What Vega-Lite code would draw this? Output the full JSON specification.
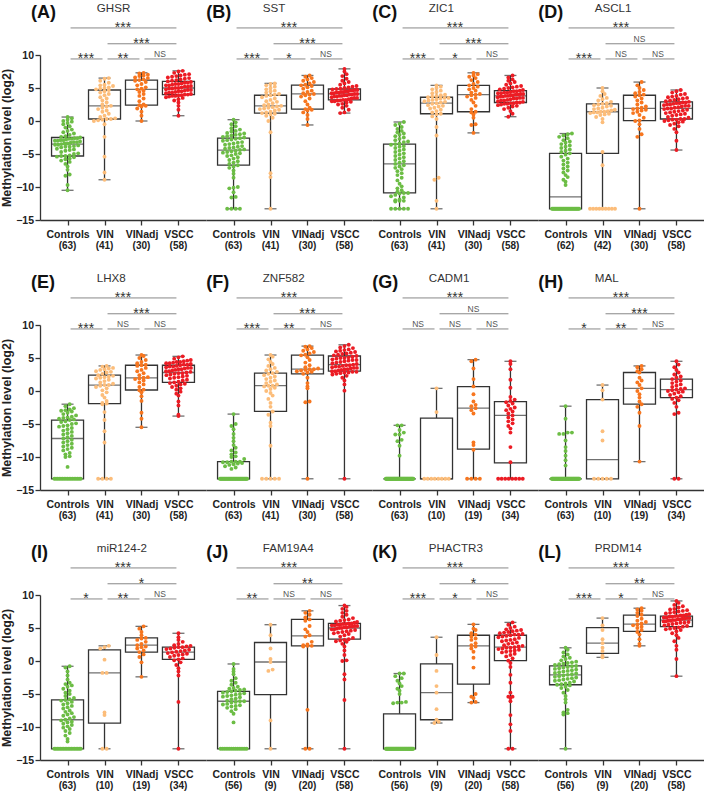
{
"$schema": "https://vega.github.io/schema/vega-lite/v6.json",
"background": "white",
"padding": {"left": 0, "top": 2, "right": 0, "bottom": 0},
"data": {"values": [
{"p":"A","ti":"GHSR","lt":"(A)"},{"p":"B","ti":"SST","lt":"(B)"},{"p":"C","ti":"ZIC1","lt":"(C)"},{"p":"D","ti":"ASCL1","lt":"(D)"},
{"p":"E","ti":"LHX8","lt":"(E)"},{"p":"F","ti":"ZNF582","lt":"(F)"},{"p":"G","ti":"CADM1","lt":"(G)"},{"p":"H","ti":"MAL","lt":"(H)"},
{"p":"I","ti":"miR124-2","lt":"(I)"},{"p":"J","ti":"FAM19A4","lt":"(J)"},{"p":"K","ti":"PHACTR3","lt":"(K)"},{"p":"L","ti":"PRDM14","lt":"(L)"},
{"p":"A","a":0,"b":3,"s":"***"},{"p":"A","a":1,"b":3,"s":"***"},{"p":"A","a":0,"b":1,"s":"***"},{"p":"A","a":1,"b":2,"s":"**"},{"p":"A","a":2,"b":3,"s":"NS"},
{"p":"B","a":0,"b":3,"s":"***"},{"p":"B","a":1,"b":3,"s":"***"},{"p":"B","a":0,"b":1,"s":"***"},{"p":"B","a":1,"b":2,"s":"*"},{"p":"B","a":2,"b":3,"s":"NS"},
{"p":"C","a":0,"b":3,"s":"***"},{"p":"C","a":1,"b":3,"s":"***"},{"p":"C","a":0,"b":1,"s":"***"},{"p":"C","a":1,"b":2,"s":"*"},{"p":"C","a":2,"b":3,"s":"NS"},
{"p":"D","a":0,"b":3,"s":"***"},{"p":"D","a":1,"b":3,"s":"NS"},{"p":"D","a":0,"b":1,"s":"***"},{"p":"D","a":1,"b":2,"s":"NS"},{"p":"D","a":2,"b":3,"s":"NS"},
{"p":"E","a":0,"b":3,"s":"***"},{"p":"E","a":1,"b":3,"s":"***"},{"p":"E","a":0,"b":1,"s":"***"},{"p":"E","a":1,"b":2,"s":"NS"},{"p":"E","a":2,"b":3,"s":"NS"},
{"p":"F","a":0,"b":3,"s":"***"},{"p":"F","a":1,"b":3,"s":"***"},{"p":"F","a":0,"b":1,"s":"***"},{"p":"F","a":1,"b":2,"s":"**"},{"p":"F","a":2,"b":3,"s":"NS"},
{"p":"G","a":0,"b":3,"s":"***"},{"p":"G","a":1,"b":3,"s":"NS"},{"p":"G","a":0,"b":1,"s":"NS"},{"p":"G","a":1,"b":2,"s":"NS"},{"p":"G","a":2,"b":3,"s":"NS"},
{"p":"H","a":0,"b":3,"s":"***"},{"p":"H","a":1,"b":3,"s":"***"},{"p":"H","a":0,"b":1,"s":"*"},{"p":"H","a":1,"b":2,"s":"**"},{"p":"H","a":2,"b":3,"s":"NS"},
{"p":"I","a":0,"b":3,"s":"***"},{"p":"I","a":1,"b":3,"s":"*"},{"p":"I","a":0,"b":1,"s":"*"},{"p":"I","a":1,"b":2,"s":"**"},{"p":"I","a":2,"b":3,"s":"NS"},
{"p":"J","a":0,"b":3,"s":"***"},{"p":"J","a":1,"b":3,"s":"**"},{"p":"J","a":0,"b":1,"s":"**"},{"p":"J","a":1,"b":2,"s":"NS"},{"p":"J","a":2,"b":3,"s":"NS"},
{"p":"K","a":0,"b":3,"s":"***"},{"p":"K","a":1,"b":3,"s":"*"},{"p":"K","a":0,"b":1,"s":"***"},{"p":"K","a":1,"b":2,"s":"*"},{"p":"K","a":2,"b":3,"s":"NS"},
{"p":"L","a":0,"b":3,"s":"***"},{"p":"L","a":1,"b":3,"s":"**"},{"p":"L","a":0,"b":1,"s":"***"},{"p":"L","a":1,"b":2,"s":"*"},{"p":"L","a":2,"b":3,"s":"NS"},
{"p":"A","g":"C","lo":-10.5,"q1":-5.3,"md":-3.5,"q3":-2.5,"hi":0.6,"nl":"(63)"},{"p":"A","g":"V","lo":-8.9,"q1":0.3,"md":2.3,"q3":4.7,"hi":6.5,"nl":"(41)"},{"p":"A","g":"J","lo":0.0,"q1":2.4,"md":4.8,"q3":6.2,"hi":7.3,"nl":"(30)"},{"p":"A","g":"S","lo":0.8,"q1":4.0,"md":5.0,"q3":6.0,"hi":7.6,"nl":"(58)"},
{"p":"B","g":"C","lo":-13.3,"q1":-6.7,"md":-4.4,"q3":-2.6,"hi":0.2,"nl":"(63)"},{"p":"B","g":"V","lo":-13.3,"q1":1.2,"md":2.3,"q3":3.9,"hi":5.7,"nl":"(41)"},{"p":"B","g":"J","lo":-0.6,"q1":1.8,"md":4.1,"q3":5.45,"hi":6.9,"nl":"(30)"},{"p":"B","g":"S","lo":1.2,"q1":3.2,"md":4.1,"q3":4.85,"hi":7.9,"nl":"(58)"},
{"p":"C","g":"C","lo":-13.3,"q1":-10.9,"md":-6.5,"q3":-3.5,"hi":-0.15,"nl":"(63)"},{"p":"C","g":"V","lo":-13.3,"q1":1.1,"md":2.7,"q3":3.6,"hi":5.4,"nl":"(41)"},{"p":"C","g":"J","lo":-1.8,"q1":1.4,"md":4.0,"q3":5.4,"hi":7.3,"nl":"(30)"},{"p":"C","g":"S","lo":0.65,"q1":2.8,"md":3.8,"q3":4.6,"hi":6.9,"nl":"(58)"},
{"p":"D","g":"C","lo":-13.3,"q1":-13.3,"md":-11.5,"q3":-4.9,"hi":-1.9,"nl":"(62)"},{"p":"D","g":"V","lo":-13.3,"q1":-4.9,"md":1.4,"q3":2.6,"hi":5.0,"nl":"(42)"},{"p":"D","g":"J","lo":-13.3,"q1":0.05,"md":1.9,"q3":3.9,"hi":5.9,"nl":"(30)"},{"p":"D","g":"S","lo":-4.4,"q1":0.3,"md":1.9,"q3":2.9,"hi":4.7,"nl":"(58)"},
{"p":"E","g":"C","lo":-13.3,"q1":-13.3,"md":-7.2,"q3":-4.4,"hi":-2.0,"nl":"(63)"},{"p":"E","g":"V","lo":-13.3,"q1":-1.9,"md":0.9,"q3":2.4,"hi":3.8,"nl":"(41)"},{"p":"E","g":"J","lo":-5.5,"q1":0.15,"md":2.0,"q3":3.9,"hi":5.45,"nl":"(30)"},{"p":"E","g":"S","lo":-3.8,"q1":1.3,"md":2.8,"q3":3.9,"hi":5.25,"nl":"(58)"},
{"p":"F","g":"C","lo":-13.3,"q1":-13.3,"md":-13.3,"q3":-10.7,"hi":-3.5,"nl":"(63)"},{"p":"F","g":"V","lo":-13.3,"q1":-3.1,"md":0.8,"q3":2.7,"hi":5.45,"nl":"(41)"},{"p":"F","g":"J","lo":-13.3,"q1":2.6,"md":3.3,"q3":5.45,"hi":6.8,"nl":"(30)"},{"p":"F","g":"S","lo":-13.3,"q1":3.0,"md":4.0,"q3":5.3,"hi":7.0,"nl":"(58)"},
{"p":"G","g":"C","lo":-13.3,"q1":-13.3,"md":-13.3,"q3":-13.3,"hi":-5.2,"nl":"(63)"},{"p":"G","g":"V","lo":-13.3,"q1":-13.3,"md":-13.3,"q3":-4.1,"hi":0.4,"nl":"(10)"},{"p":"G","g":"J","lo":-13.3,"q1":-8.8,"md":-2.6,"q3":0.65,"hi":4.75,"nl":"(19)"},{"p":"G","g":"S","lo":-13.3,"q1":-10.9,"md":-3.7,"q3":-1.6,"hi":4.5,"nl":"(34)"},
{"p":"H","g":"C","lo":-13.3,"q1":-13.3,"md":-13.3,"q3":-13.3,"hi":-2.3,"nl":"(63)"},{"p":"H","g":"V","lo":-13.3,"q1":-13.3,"md":-10.4,"q3":-1.3,"hi":0.9,"nl":"(10)"},{"p":"H","g":"J","lo":-10.7,"q1":-2.0,"md":0.4,"q3":2.8,"hi":3.8,"nl":"(19)"},{"p":"H","g":"S","lo":-13.3,"q1":-1.0,"md":0.2,"q3":1.8,"hi":4.5,"nl":"(34)"},
{"p":"I","g":"C","lo":-13.3,"q1":-13.3,"md":-8.9,"q3":-5.9,"hi":-0.8,"nl":"(63)"},{"p":"I","g":"V","lo":-13.3,"q1":-9.4,"md":-1.8,"q3":1.7,"hi":2.3,"nl":"(10)"},{"p":"I","g":"J","lo":-2.4,"q1":1.35,"md":2.4,"q3":3.5,"hi":5.25,"nl":"(19)"},{"p":"I","g":"S","lo":-13.3,"q1":0.25,"md":1.35,"q3":2.1,"hi":4.2,"nl":"(34)"},
{"p":"J","g":"C","lo":-13.3,"q1":-13.3,"md":-6.1,"q3":-4.6,"hi":-0.45,"nl":"(56)"},{"p":"J","g":"V","lo":-13.3,"q1":-5.1,"md":-0.15,"q3":2.8,"hi":5.5,"nl":"(9)"},{"p":"J","g":"J","lo":-13.3,"q1":2.3,"md":3.8,"q3":6.3,"hi":7.6,"nl":"(20)"},{"p":"J","g":"S","lo":-13.3,"q1":3.3,"md":5.0,"q3":5.7,"hi":8.4,"nl":"(58)"},
{"p":"K","g":"C","lo":-13.3,"q1":-13.3,"md":-13.3,"q3":-8.0,"hi":-1.9,"nl":"(56)"},{"p":"K","g":"V","lo":-9.4,"q1":-8.9,"md":-4.8,"q3":-0.45,"hi":3.6,"nl":"(9)"},{"p":"K","g":"J","lo":-6.3,"q1":-3.5,"md":2.3,"q3":3.9,"hi":5.55,"nl":"(20)"},{"p":"K","g":"S","lo":-13.3,"q1":0.05,"md":2.1,"q3":3.9,"hi":5.85,"nl":"(58)"},
{"p":"L","g":"C","lo":-13.3,"q1":-3.6,"md":-2.1,"q3":-0.75,"hi":2.0,"nl":"(56)"},{"p":"L","g":"V","lo":0.55,"q1":1.15,"md":2.7,"q3":5.05,"hi":6.5,"nl":"(9)"},{"p":"L","g":"J","lo":2.3,"q1":4.5,"md":5.6,"q3":6.95,"hi":8.0,"nl":"(20)"},{"p":"L","g":"S","lo":-2.3,"q1":5.2,"md":6.2,"q3":6.8,"hi":9.1,"nl":"(58)"},
{"p":"A","g":"C","v":-10.5},{"p":"A","g":"C","v":-9.7},{"p":"A","g":"C","v":-8.3},{"p":"A","g":"C","v":-8.1},{"p":"A","g":"C","v":-7.4},{"p":"A","g":"C","v":-6.9},{"p":"A","g":"C","v":-6.5},{"p":"A","g":"C","v":-6.2},{"p":"A","g":"C","v":-6.0},{"p":"A","g":"C","v":-5.8},{"p":"A","g":"C","v":-5.7},{"p":"A","g":"C","v":-5.5},{"p":"A","g":"C","v":-5.4},{"p":"A","g":"C","v":-5.3},{"p":"A","g":"C","v":-5.3},{"p":"A","g":"C","v":-5.2},{"p":"A","g":"C","v":-5.0},{"p":"A","g":"C","v":-4.9},{"p":"A","g":"C","v":-4.7},{"p":"A","g":"C","v":-4.5},{"p":"A","g":"C","v":-4.4},{"p":"A","g":"C","v":-4.3},{"p":"A","g":"C","v":-4.2},{"p":"A","g":"C","v":-4.0},{"p":"A","g":"C","v":-3.9},{"p":"A","g":"C","v":-3.9},{"p":"A","g":"C","v":-3.8},{"p":"A","g":"C","v":-3.7},{"p":"A","g":"C","v":-3.6},{"p":"A","g":"C","v":-3.6},{"p":"A","g":"C","v":-3.5},{"p":"A","g":"C","v":-3.4},{"p":"A","g":"C","v":-3.4},{"p":"A","g":"C","v":-3.3},{"p":"A","g":"C","v":-3.2},{"p":"A","g":"C","v":-3.2},{"p":"A","g":"C","v":-3.1},{"p":"A","g":"C","v":-3.0},{"p":"A","g":"C","v":-3.0},{"p":"A","g":"C","v":-2.9},{"p":"A","g":"C","v":-2.9},{"p":"A","g":"C","v":-2.8},{"p":"A","g":"C","v":-2.7},{"p":"A","g":"C","v":-2.7},{"p":"A","g":"C","v":-2.6},{"p":"A","g":"C","v":-2.6},{"p":"A","g":"C","v":-2.5},{"p":"A","g":"C","v":-2.4},{"p":"A","g":"C","v":-2.3},{"p":"A","g":"C","v":-2.1},{"p":"A","g":"C","v":-1.9},{"p":"A","g":"C","v":-1.7},{"p":"A","g":"C","v":-1.5},{"p":"A","g":"C","v":-1.3},{"p":"A","g":"C","v":-1.0},{"p":"A","g":"C","v":-0.8},{"p":"A","g":"C","v":-0.5},{"p":"A","g":"C","v":-0.3},{"p":"A","g":"C","v":-0.1},{"p":"A","g":"C","v":0.0},{"p":"A","g":"C","v":0.2},{"p":"A","g":"C","v":0.4},{"p":"A","g":"C","v":0.6},
{"p":"A","g":"V","v":-8.9},{"p":"A","g":"V","v":-7.8},{"p":"A","g":"V","v":-5.4},{"p":"A","g":"V","v":-2.4},{"p":"A","g":"V","v":-0.5},{"p":"A","g":"V","v":0.0},{"p":"A","g":"V","v":0.1},{"p":"A","g":"V","v":0.2},{"p":"A","g":"V","v":0.3},{"p":"A","g":"V","v":0.3},{"p":"A","g":"V","v":0.4},{"p":"A","g":"V","v":0.6},{"p":"A","g":"V","v":0.8},{"p":"A","g":"V","v":1.1},{"p":"A","g":"V","v":1.4},{"p":"A","g":"V","v":1.6},{"p":"A","g":"V","v":1.8},{"p":"A","g":"V","v":2.0},{"p":"A","g":"V","v":2.2},{"p":"A","g":"V","v":2.3},{"p":"A","g":"V","v":2.5},{"p":"A","g":"V","v":2.8},{"p":"A","g":"V","v":3.1},{"p":"A","g":"V","v":3.4},{"p":"A","g":"V","v":3.6},{"p":"A","g":"V","v":3.9},{"p":"A","g":"V","v":4.1},{"p":"A","g":"V","v":4.3},{"p":"A","g":"V","v":4.5},{"p":"A","g":"V","v":4.7},{"p":"A","g":"V","v":4.8},{"p":"A","g":"V","v":4.9},{"p":"A","g":"V","v":5.0},{"p":"A","g":"V","v":5.1},{"p":"A","g":"V","v":5.3},{"p":"A","g":"V","v":5.4},{"p":"A","g":"V","v":5.5},{"p":"A","g":"V","v":5.8},{"p":"A","g":"V","v":6.1},{"p":"A","g":"V","v":6.4},{"p":"A","g":"V","v":6.5},
{"p":"A","g":"J","v":0.0},{"p":"A","g":"J","v":0.8},{"p":"A","g":"J","v":1.4},{"p":"A","g":"J","v":1.9},{"p":"A","g":"J","v":2.2},{"p":"A","g":"J","v":2.3},{"p":"A","g":"J","v":2.4},{"p":"A","g":"J","v":2.5},{"p":"A","g":"J","v":3.0},{"p":"A","g":"J","v":3.4},{"p":"A","g":"J","v":3.8},{"p":"A","g":"J","v":4.1},{"p":"A","g":"J","v":4.4},{"p":"A","g":"J","v":4.6},{"p":"A","g":"J","v":4.8},{"p":"A","g":"J","v":4.9},{"p":"A","g":"J","v":5.1},{"p":"A","g":"J","v":5.4},{"p":"A","g":"J","v":5.6},{"p":"A","g":"J","v":5.9},{"p":"A","g":"J","v":6.1},{"p":"A","g":"J","v":6.2},{"p":"A","g":"J","v":6.3},{"p":"A","g":"J","v":6.5},{"p":"A","g":"J","v":6.6},{"p":"A","g":"J","v":6.8},{"p":"A","g":"J","v":6.9},{"p":"A","g":"J","v":7.0},{"p":"A","g":"J","v":7.2},{"p":"A","g":"J","v":7.3},
{"p":"A","g":"S","v":0.8},{"p":"A","g":"S","v":1.7},{"p":"A","g":"S","v":2.3},{"p":"A","g":"S","v":2.8},{"p":"A","g":"S","v":3.1},{"p":"A","g":"S","v":3.3},{"p":"A","g":"S","v":3.5},{"p":"A","g":"S","v":3.6},{"p":"A","g":"S","v":3.7},{"p":"A","g":"S","v":3.8},{"p":"A","g":"S","v":3.8},{"p":"A","g":"S","v":3.9},{"p":"A","g":"S","v":3.9},{"p":"A","g":"S","v":4.0},{"p":"A","g":"S","v":4.0},{"p":"A","g":"S","v":4.1},{"p":"A","g":"S","v":4.2},{"p":"A","g":"S","v":4.3},{"p":"A","g":"S","v":4.3},{"p":"A","g":"S","v":4.4},{"p":"A","g":"S","v":4.5},{"p":"A","g":"S","v":4.5},{"p":"A","g":"S","v":4.6},{"p":"A","g":"S","v":4.7},{"p":"A","g":"S","v":4.7},{"p":"A","g":"S","v":4.8},{"p":"A","g":"S","v":4.9},{"p":"A","g":"S","v":4.9},{"p":"A","g":"S","v":5.0},{"p":"A","g":"S","v":5.0},{"p":"A","g":"S","v":5.1},{"p":"A","g":"S","v":5.2},{"p":"A","g":"S","v":5.2},{"p":"A","g":"S","v":5.3},{"p":"A","g":"S","v":5.4},{"p":"A","g":"S","v":5.4},{"p":"A","g":"S","v":5.5},{"p":"A","g":"S","v":5.6},{"p":"A","g":"S","v":5.6},{"p":"A","g":"S","v":5.7},{"p":"A","g":"S","v":5.8},{"p":"A","g":"S","v":5.8},{"p":"A","g":"S","v":5.9},{"p":"A","g":"S","v":6.0},{"p":"A","g":"S","v":6.1},{"p":"A","g":"S","v":6.2},{"p":"A","g":"S","v":6.3},{"p":"A","g":"S","v":6.4},{"p":"A","g":"S","v":6.5},{"p":"A","g":"S","v":6.6},{"p":"A","g":"S","v":6.7},{"p":"A","g":"S","v":6.8},{"p":"A","g":"S","v":6.9},{"p":"A","g":"S","v":7.0},{"p":"A","g":"S","v":7.1},{"p":"A","g":"S","v":7.3},{"p":"A","g":"S","v":7.5},{"p":"A","g":"S","v":7.6},
{"p":"B","g":"C","v":-13.3},{"p":"B","g":"C","v":-13.3},{"p":"B","g":"C","v":-13.3},{"p":"B","g":"C","v":-13.3},{"p":"B","g":"C","v":-11.6},{"p":"B","g":"C","v":-11.5},{"p":"B","g":"C","v":-10.8},{"p":"B","g":"C","v":-10.2},{"p":"B","g":"C","v":-10.1},{"p":"B","g":"C","v":-10.0},{"p":"B","g":"C","v":-8.6},{"p":"B","g":"C","v":-8.0},{"p":"B","g":"C","v":-7.5},{"p":"B","g":"C","v":-7.1},{"p":"B","g":"C","v":-6.9},{"p":"B","g":"C","v":-6.7},{"p":"B","g":"C","v":-6.5},{"p":"B","g":"C","v":-6.3},{"p":"B","g":"C","v":-6.1},{"p":"B","g":"C","v":-5.9},{"p":"B","g":"C","v":-5.7},{"p":"B","g":"C","v":-5.5},{"p":"B","g":"C","v":-5.3},{"p":"B","g":"C","v":-5.2},{"p":"B","g":"C","v":-5.0},{"p":"B","g":"C","v":-4.9},{"p":"B","g":"C","v":-4.8},{"p":"B","g":"C","v":-4.7},{"p":"B","g":"C","v":-4.6},{"p":"B","g":"C","v":-4.5},{"p":"B","g":"C","v":-4.4},{"p":"B","g":"C","v":-4.3},{"p":"B","g":"C","v":-4.2},{"p":"B","g":"C","v":-4.1},{"p":"B","g":"C","v":-4.0},{"p":"B","g":"C","v":-3.9},{"p":"B","g":"C","v":-3.8},{"p":"B","g":"C","v":-3.6},{"p":"B","g":"C","v":-3.5},{"p":"B","g":"C","v":-3.4},{"p":"B","g":"C","v":-3.3},{"p":"B","g":"C","v":-3.2},{"p":"B","g":"C","v":-3.0},{"p":"B","g":"C","v":-2.9},{"p":"B","g":"C","v":-2.8},{"p":"B","g":"C","v":-2.7},{"p":"B","g":"C","v":-2.6},{"p":"B","g":"C","v":-2.5},{"p":"B","g":"C","v":-2.4},{"p":"B","g":"C","v":-2.3},{"p":"B","g":"C","v":-2.2},{"p":"B","g":"C","v":-2.1},{"p":"B","g":"C","v":-2.0},{"p":"B","g":"C","v":-1.9},{"p":"B","g":"C","v":-1.8},{"p":"B","g":"C","v":-1.6},{"p":"B","g":"C","v":-1.5},{"p":"B","g":"C","v":-1.3},{"p":"B","g":"C","v":-1.1},{"p":"B","g":"C","v":-0.8},{"p":"B","g":"C","v":-0.5},{"p":"B","g":"C","v":-0.2},{"p":"B","g":"C","v":0.2},
{"p":"B","g":"V","v":-13.3},{"p":"B","g":"V","v":-8.5},{"p":"B","g":"V","v":-7.9},{"p":"B","g":"V","v":-1.7},{"p":"B","g":"V","v":0.0},{"p":"B","g":"V","v":0.5},{"p":"B","g":"V","v":0.8},{"p":"B","g":"V","v":1.0},{"p":"B","g":"V","v":1.1},{"p":"B","g":"V","v":1.2},{"p":"B","g":"V","v":1.3},{"p":"B","g":"V","v":1.4},{"p":"B","g":"V","v":1.6},{"p":"B","g":"V","v":1.7},{"p":"B","g":"V","v":1.8},{"p":"B","g":"V","v":1.9},{"p":"B","g":"V","v":2.0},{"p":"B","g":"V","v":2.1},{"p":"B","g":"V","v":2.2},{"p":"B","g":"V","v":2.3},{"p":"B","g":"V","v":2.4},{"p":"B","g":"V","v":2.5},{"p":"B","g":"V","v":2.7},{"p":"B","g":"V","v":2.9},{"p":"B","g":"V","v":3.0},{"p":"B","g":"V","v":3.2},{"p":"B","g":"V","v":3.4},{"p":"B","g":"V","v":3.6},{"p":"B","g":"V","v":3.8},{"p":"B","g":"V","v":3.9},{"p":"B","g":"V","v":4.0},{"p":"B","g":"V","v":4.1},{"p":"B","g":"V","v":4.3},{"p":"B","g":"V","v":4.5},{"p":"B","g":"V","v":4.6},{"p":"B","g":"V","v":4.8},{"p":"B","g":"V","v":5.0},{"p":"B","g":"V","v":5.2},{"p":"B","g":"V","v":5.4},{"p":"B","g":"V","v":5.6},{"p":"B","g":"V","v":5.7},
{"p":"B","g":"J","v":-0.6},{"p":"B","g":"J","v":0.3},{"p":"B","g":"J","v":0.9},{"p":"B","g":"J","v":1.3},{"p":"B","g":"J","v":1.6},{"p":"B","g":"J","v":1.7},{"p":"B","g":"J","v":1.8},{"p":"B","g":"J","v":2.0},{"p":"B","g":"J","v":2.5},{"p":"B","g":"J","v":3.0},{"p":"B","g":"J","v":3.4},{"p":"B","g":"J","v":3.7},{"p":"B","g":"J","v":3.9},{"p":"B","g":"J","v":4.0},{"p":"B","g":"J","v":4.1},{"p":"B","g":"J","v":4.2},{"p":"B","g":"J","v":4.4},{"p":"B","g":"J","v":4.6},{"p":"B","g":"J","v":4.9},{"p":"B","g":"J","v":5.1},{"p":"B","g":"J","v":5.3},{"p":"B","g":"J","v":5.4},{"p":"B","g":"J","v":5.5},{"p":"B","g":"J","v":5.7},{"p":"B","g":"J","v":5.9},{"p":"B","g":"J","v":6.1},{"p":"B","g":"J","v":6.3},{"p":"B","g":"J","v":6.5},{"p":"B","g":"J","v":6.7},{"p":"B","g":"J","v":6.9},
{"p":"B","g":"S","v":1.2},{"p":"B","g":"S","v":1.3},{"p":"B","g":"S","v":1.7},{"p":"B","g":"S","v":2.0},{"p":"B","g":"S","v":2.3},{"p":"B","g":"S","v":2.5},{"p":"B","g":"S","v":2.6},{"p":"B","g":"S","v":2.8},{"p":"B","g":"S","v":2.9},{"p":"B","g":"S","v":3.0},{"p":"B","g":"S","v":3.0},{"p":"B","g":"S","v":3.1},{"p":"B","g":"S","v":3.1},{"p":"B","g":"S","v":3.2},{"p":"B","g":"S","v":3.2},{"p":"B","g":"S","v":3.3},{"p":"B","g":"S","v":3.4},{"p":"B","g":"S","v":3.5},{"p":"B","g":"S","v":3.5},{"p":"B","g":"S","v":3.6},{"p":"B","g":"S","v":3.7},{"p":"B","g":"S","v":3.7},{"p":"B","g":"S","v":3.8},{"p":"B","g":"S","v":3.8},{"p":"B","g":"S","v":3.9},{"p":"B","g":"S","v":3.9},{"p":"B","g":"S","v":4.0},{"p":"B","g":"S","v":4.0},{"p":"B","g":"S","v":4.1},{"p":"B","g":"S","v":4.1},{"p":"B","g":"S","v":4.2},{"p":"B","g":"S","v":4.2},{"p":"B","g":"S","v":4.3},{"p":"B","g":"S","v":4.3},{"p":"B","g":"S","v":4.4},{"p":"B","g":"S","v":4.4},{"p":"B","g":"S","v":4.5},{"p":"B","g":"S","v":4.5},{"p":"B","g":"S","v":4.6},{"p":"B","g":"S","v":4.6},{"p":"B","g":"S","v":4.7},{"p":"B","g":"S","v":4.7},{"p":"B","g":"S","v":4.8},{"p":"B","g":"S","v":4.85},{"p":"B","g":"S","v":4.9},{"p":"B","g":"S","v":5.0},{"p":"B","g":"S","v":5.1},{"p":"B","g":"S","v":5.2},{"p":"B","g":"S","v":5.3},{"p":"B","g":"S","v":5.5},{"p":"B","g":"S","v":5.7},{"p":"B","g":"S","v":5.9},{"p":"B","g":"S","v":6.1},{"p":"B","g":"S","v":6.4},{"p":"B","g":"S","v":6.8},{"p":"B","g":"S","v":7.1},{"p":"B","g":"S","v":7.5},{"p":"B","g":"S","v":7.9},
{"p":"C","g":"C","v":-13.3},{"p":"C","g":"C","v":-13.3},{"p":"C","g":"C","v":-13.3},{"p":"C","g":"C","v":-13.3},{"p":"C","g":"C","v":-13.3},{"p":"C","g":"C","v":-12.2},{"p":"C","g":"C","v":-12.1},{"p":"C","g":"C","v":-12.1},{"p":"C","g":"C","v":-12.0},{"p":"C","g":"C","v":-11.9},{"p":"C","g":"C","v":-11.6},{"p":"C","g":"C","v":-11.4},{"p":"C","g":"C","v":-11.2},{"p":"C","g":"C","v":-11.0},{"p":"C","g":"C","v":-10.9},{"p":"C","g":"C","v":-10.9},{"p":"C","g":"C","v":-10.7},{"p":"C","g":"C","v":-10.5},{"p":"C","g":"C","v":-10.2},{"p":"C","g":"C","v":-9.9},{"p":"C","g":"C","v":-9.5},{"p":"C","g":"C","v":-9.0},{"p":"C","g":"C","v":-8.6},{"p":"C","g":"C","v":-8.2},{"p":"C","g":"C","v":-7.9},{"p":"C","g":"C","v":-7.6},{"p":"C","g":"C","v":-7.3},{"p":"C","g":"C","v":-7.1},{"p":"C","g":"C","v":-6.9},{"p":"C","g":"C","v":-6.7},{"p":"C","g":"C","v":-6.5},{"p":"C","g":"C","v":-6.3},{"p":"C","g":"C","v":-6.1},{"p":"C","g":"C","v":-5.9},{"p":"C","g":"C","v":-5.7},{"p":"C","g":"C","v":-5.5},{"p":"C","g":"C","v":-5.3},{"p":"C","g":"C","v":-5.1},{"p":"C","g":"C","v":-4.9},{"p":"C","g":"C","v":-4.7},{"p":"C","g":"C","v":-4.5},{"p":"C","g":"C","v":-4.3},{"p":"C","g":"C","v":-4.1},{"p":"C","g":"C","v":-3.9},{"p":"C","g":"C","v":-3.8},{"p":"C","g":"C","v":-3.6},{"p":"C","g":"C","v":-3.5},{"p":"C","g":"C","v":-3.4},{"p":"C","g":"C","v":-3.2},{"p":"C","g":"C","v":-3.1},{"p":"C","g":"C","v":-2.9},{"p":"C","g":"C","v":-2.7},{"p":"C","g":"C","v":-2.5},{"p":"C","g":"C","v":-2.3},{"p":"C","g":"C","v":-2.1},{"p":"C","g":"C","v":-1.9},{"p":"C","g":"C","v":-1.7},{"p":"C","g":"C","v":-1.5},{"p":"C","g":"C","v":-1.2},{"p":"C","g":"C","v":-0.9},{"p":"C","g":"C","v":-0.6},{"p":"C","g":"C","v":-0.4},{"p":"C","g":"C","v":-0.15},
{"p":"C","g":"V","v":-13.3},{"p":"C","g":"V","v":-12.1},{"p":"C","g":"V","v":-8.9},{"p":"C","g":"V","v":-8.6},{"p":"C","g":"V","v":-2.2},{"p":"C","g":"V","v":-0.9},{"p":"C","g":"V","v":0.3},{"p":"C","g":"V","v":0.7},{"p":"C","g":"V","v":1.0},{"p":"C","g":"V","v":1.1},{"p":"C","g":"V","v":1.3},{"p":"C","g":"V","v":1.5},{"p":"C","g":"V","v":1.7},{"p":"C","g":"V","v":1.9},{"p":"C","g":"V","v":2.0},{"p":"C","g":"V","v":2.2},{"p":"C","g":"V","v":2.3},{"p":"C","g":"V","v":2.4},{"p":"C","g":"V","v":2.6},{"p":"C","g":"V","v":2.7},{"p":"C","g":"V","v":2.8},{"p":"C","g":"V","v":2.9},{"p":"C","g":"V","v":3.0},{"p":"C","g":"V","v":3.1},{"p":"C","g":"V","v":3.2},{"p":"C","g":"V","v":3.3},{"p":"C","g":"V","v":3.4},{"p":"C","g":"V","v":3.5},{"p":"C","g":"V","v":3.5},{"p":"C","g":"V","v":3.6},{"p":"C","g":"V","v":3.7},{"p":"C","g":"V","v":3.8},{"p":"C","g":"V","v":3.9},{"p":"C","g":"V","v":4.0},{"p":"C","g":"V","v":4.2},{"p":"C","g":"V","v":4.4},{"p":"C","g":"V","v":4.6},{"p":"C","g":"V","v":4.8},{"p":"C","g":"V","v":5.0},{"p":"C","g":"V","v":5.2},{"p":"C","g":"V","v":5.4},
{"p":"C","g":"J","v":-1.8},{"p":"C","g":"J","v":-0.6},{"p":"C","g":"J","v":-0.5},{"p":"C","g":"J","v":0.5},{"p":"C","g":"J","v":1.0},{"p":"C","g":"J","v":1.3},{"p":"C","g":"J","v":1.4},{"p":"C","g":"J","v":1.8},{"p":"C","g":"J","v":2.3},{"p":"C","g":"J","v":2.8},{"p":"C","g":"J","v":3.2},{"p":"C","g":"J","v":3.5},{"p":"C","g":"J","v":3.7},{"p":"C","g":"J","v":3.9},{"p":"C","g":"J","v":4.0},{"p":"C","g":"J","v":4.1},{"p":"C","g":"J","v":4.3},{"p":"C","g":"J","v":4.6},{"p":"C","g":"J","v":4.8},{"p":"C","g":"J","v":5.0},{"p":"C","g":"J","v":5.2},{"p":"C","g":"J","v":5.4},{"p":"C","g":"J","v":5.6},{"p":"C","g":"J","v":5.9},{"p":"C","g":"J","v":6.2},{"p":"C","g":"J","v":6.5},{"p":"C","g":"J","v":6.7},{"p":"C","g":"J","v":6.9},{"p":"C","g":"J","v":7.1},{"p":"C","g":"J","v":7.3},
{"p":"C","g":"S","v":0.65},{"p":"C","g":"S","v":1.1},{"p":"C","g":"S","v":1.5},{"p":"C","g":"S","v":1.8},{"p":"C","g":"S","v":2.0},{"p":"C","g":"S","v":2.2},{"p":"C","g":"S","v":2.3},{"p":"C","g":"S","v":2.4},{"p":"C","g":"S","v":2.5},{"p":"C","g":"S","v":2.6},{"p":"C","g":"S","v":2.6},{"p":"C","g":"S","v":2.7},{"p":"C","g":"S","v":2.7},{"p":"C","g":"S","v":2.8},{"p":"C","g":"S","v":2.8},{"p":"C","g":"S","v":2.9},{"p":"C","g":"S","v":3.0},{"p":"C","g":"S","v":3.1},{"p":"C","g":"S","v":3.1},{"p":"C","g":"S","v":3.2},{"p":"C","g":"S","v":3.3},{"p":"C","g":"S","v":3.4},{"p":"C","g":"S","v":3.4},{"p":"C","g":"S","v":3.5},{"p":"C","g":"S","v":3.5},{"p":"C","g":"S","v":3.6},{"p":"C","g":"S","v":3.7},{"p":"C","g":"S","v":3.7},{"p":"C","g":"S","v":3.8},{"p":"C","g":"S","v":3.8},{"p":"C","g":"S","v":3.9},{"p":"C","g":"S","v":3.9},{"p":"C","g":"S","v":4.0},{"p":"C","g":"S","v":4.0},{"p":"C","g":"S","v":4.1},{"p":"C","g":"S","v":4.1},{"p":"C","g":"S","v":4.2},{"p":"C","g":"S","v":4.2},{"p":"C","g":"S","v":4.3},{"p":"C","g":"S","v":4.3},{"p":"C","g":"S","v":4.4},{"p":"C","g":"S","v":4.5},{"p":"C","g":"S","v":4.5},{"p":"C","g":"S","v":4.6},{"p":"C","g":"S","v":4.7},{"p":"C","g":"S","v":4.8},{"p":"C","g":"S","v":4.9},{"p":"C","g":"S","v":5.0},{"p":"C","g":"S","v":5.1},{"p":"C","g":"S","v":5.2},{"p":"C","g":"S","v":5.3},{"p":"C","g":"S","v":5.5},{"p":"C","g":"S","v":5.7},{"p":"C","g":"S","v":5.9},{"p":"C","g":"S","v":6.1},{"p":"C","g":"S","v":6.3},{"p":"C","g":"S","v":6.6},{"p":"C","g":"S","v":6.9},
{"p":"D","g":"C","v":-13.3},{"p":"D","g":"C","v":-13.3},{"p":"D","g":"C","v":-13.3},{"p":"D","g":"C","v":-13.3},{"p":"D","g":"C","v":-13.3},{"p":"D","g":"C","v":-13.3},{"p":"D","g":"C","v":-13.3},{"p":"D","g":"C","v":-13.3},{"p":"D","g":"C","v":-13.3},{"p":"D","g":"C","v":-13.3},{"p":"D","g":"C","v":-13.3},{"p":"D","g":"C","v":-13.3},{"p":"D","g":"C","v":-13.3},{"p":"D","g":"C","v":-13.3},{"p":"D","g":"C","v":-13.3},{"p":"D","g":"C","v":-13.3},{"p":"D","g":"C","v":-13.3},{"p":"D","g":"C","v":-13.3},{"p":"D","g":"C","v":-13.3},{"p":"D","g":"C","v":-13.3},{"p":"D","g":"C","v":-13.3},{"p":"D","g":"C","v":-13.3},{"p":"D","g":"C","v":-13.3},{"p":"D","g":"C","v":-13.3},{"p":"D","g":"C","v":-13.3},{"p":"D","g":"C","v":-13.3},{"p":"D","g":"C","v":-13.3},{"p":"D","g":"C","v":-13.3},{"p":"D","g":"C","v":-13.3},{"p":"D","g":"C","v":-13.3},{"p":"D","g":"C","v":-13.3},{"p":"D","g":"C","v":-9.7},{"p":"D","g":"C","v":-9.2},{"p":"D","g":"C","v":-8.9},{"p":"D","g":"C","v":-8.5},{"p":"D","g":"C","v":-8.2},{"p":"D","g":"C","v":-7.8},{"p":"D","g":"C","v":-7.5},{"p":"D","g":"C","v":-7.2},{"p":"D","g":"C","v":-6.9},{"p":"D","g":"C","v":-6.6},{"p":"D","g":"C","v":-6.3},{"p":"D","g":"C","v":-6.0},{"p":"D","g":"C","v":-5.7},{"p":"D","g":"C","v":-5.4},{"p":"D","g":"C","v":-5.1},{"p":"D","g":"C","v":-4.9},{"p":"D","g":"C","v":-4.7},{"p":"D","g":"C","v":-4.5},{"p":"D","g":"C","v":-4.3},{"p":"D","g":"C","v":-4.1},{"p":"D","g":"C","v":-3.9},{"p":"D","g":"C","v":-3.7},{"p":"D","g":"C","v":-3.5},{"p":"D","g":"C","v":-3.3},{"p":"D","g":"C","v":-3.1},{"p":"D","g":"C","v":-2.9},{"p":"D","g":"C","v":-2.6},{"p":"D","g":"C","v":-2.4},{"p":"D","g":"C","v":-2.2},{"p":"D","g":"C","v":-2.0},{"p":"D","g":"C","v":-1.9},
{"p":"D","g":"V","v":-13.3},{"p":"D","g":"V","v":-13.3},{"p":"D","g":"V","v":-13.3},{"p":"D","g":"V","v":-13.3},{"p":"D","g":"V","v":-13.3},{"p":"D","g":"V","v":-13.3},{"p":"D","g":"V","v":-13.3},{"p":"D","g":"V","v":-13.3},{"p":"D","g":"V","v":-13.3},{"p":"D","g":"V","v":-6.7},{"p":"D","g":"V","v":-4.7},{"p":"D","g":"V","v":-0.2},{"p":"D","g":"V","v":0.3},{"p":"D","g":"V","v":0.6},{"p":"D","g":"V","v":0.9},{"p":"D","g":"V","v":1.0},{"p":"D","g":"V","v":1.1},{"p":"D","g":"V","v":1.2},{"p":"D","g":"V","v":1.3},{"p":"D","g":"V","v":1.3},{"p":"D","g":"V","v":1.4},{"p":"D","g":"V","v":1.4},{"p":"D","g":"V","v":1.5},{"p":"D","g":"V","v":1.6},{"p":"D","g":"V","v":1.7},{"p":"D","g":"V","v":1.8},{"p":"D","g":"V","v":1.9},{"p":"D","g":"V","v":2.0},{"p":"D","g":"V","v":2.2},{"p":"D","g":"V","v":2.3},{"p":"D","g":"V","v":2.4},{"p":"D","g":"V","v":2.5},{"p":"D","g":"V","v":2.6},{"p":"D","g":"V","v":2.7},{"p":"D","g":"V","v":2.9},{"p":"D","g":"V","v":3.1},{"p":"D","g":"V","v":3.3},{"p":"D","g":"V","v":3.5},{"p":"D","g":"V","v":3.8},{"p":"D","g":"V","v":4.1},{"p":"D","g":"V","v":4.5},{"p":"D","g":"V","v":5.0},
{"p":"D","g":"J","v":-13.3},{"p":"D","g":"J","v":-2.4},{"p":"D","g":"J","v":-2.0},{"p":"D","g":"J","v":-1.2},{"p":"D","g":"J","v":-0.5},{"p":"D","g":"J","v":0.0},{"p":"D","g":"J","v":0.1},{"p":"D","g":"J","v":0.5},{"p":"D","g":"J","v":0.9},{"p":"D","g":"J","v":1.2},{"p":"D","g":"J","v":1.4},{"p":"D","g":"J","v":1.6},{"p":"D","g":"J","v":1.7},{"p":"D","g":"J","v":1.8},{"p":"D","g":"J","v":1.9},{"p":"D","g":"J","v":2.0},{"p":"D","g":"J","v":2.2},{"p":"D","g":"J","v":2.5},{"p":"D","g":"J","v":2.8},{"p":"D","g":"J","v":3.1},{"p":"D","g":"J","v":3.4},{"p":"D","g":"J","v":3.7},{"p":"D","g":"J","v":3.9},{"p":"D","g":"J","v":4.0},{"p":"D","g":"J","v":4.2},{"p":"D","g":"J","v":4.4},{"p":"D","g":"J","v":4.7},{"p":"D","g":"J","v":5.0},{"p":"D","g":"J","v":5.4},{"p":"D","g":"J","v":5.9},
{"p":"D","g":"S","v":-4.4},{"p":"D","g":"S","v":-3.0},{"p":"D","g":"S","v":-1.7},{"p":"D","g":"S","v":-1.2},{"p":"D","g":"S","v":-0.8},{"p":"D","g":"S","v":-0.6},{"p":"D","g":"S","v":-0.4},{"p":"D","g":"S","v":-0.2},{"p":"D","g":"S","v":-0.1},{"p":"D","g":"S","v":0.0},{"p":"D","g":"S","v":0.1},{"p":"D","g":"S","v":0.2},{"p":"D","g":"S","v":0.2},{"p":"D","g":"S","v":0.3},{"p":"D","g":"S","v":0.3},{"p":"D","g":"S","v":0.5},{"p":"D","g":"S","v":0.6},{"p":"D","g":"S","v":0.8},{"p":"D","g":"S","v":0.9},{"p":"D","g":"S","v":1.0},{"p":"D","g":"S","v":1.1},{"p":"D","g":"S","v":1.2},{"p":"D","g":"S","v":1.3},{"p":"D","g":"S","v":1.4},{"p":"D","g":"S","v":1.5},{"p":"D","g":"S","v":1.6},{"p":"D","g":"S","v":1.7},{"p":"D","g":"S","v":1.8},{"p":"D","g":"S","v":1.9},{"p":"D","g":"S","v":1.9},{"p":"D","g":"S","v":2.0},{"p":"D","g":"S","v":2.1},{"p":"D","g":"S","v":2.2},{"p":"D","g":"S","v":2.3},{"p":"D","g":"S","v":2.3},{"p":"D","g":"S","v":2.4},{"p":"D","g":"S","v":2.5},{"p":"D","g":"S","v":2.5},{"p":"D","g":"S","v":2.6},{"p":"D","g":"S","v":2.7},{"p":"D","g":"S","v":2.7},{"p":"D","g":"S","v":2.8},{"p":"D","g":"S","v":2.8},{"p":"D","g":"S","v":2.9},{"p":"D","g":"S","v":3.0},{"p":"D","g":"S","v":3.1},{"p":"D","g":"S","v":3.2},{"p":"D","g":"S","v":3.3},{"p":"D","g":"S","v":3.4},{"p":"D","g":"S","v":3.5},{"p":"D","g":"S","v":3.6},{"p":"D","g":"S","v":3.7},{"p":"D","g":"S","v":3.8},{"p":"D","g":"S","v":4.0},{"p":"D","g":"S","v":4.1},{"p":"D","g":"S","v":4.3},{"p":"D","g":"S","v":4.5},{"p":"D","g":"S","v":4.7},
{"p":"E","g":"C","v":-13.3},{"p":"E","g":"C","v":-13.3},{"p":"E","g":"C","v":-13.3},{"p":"E","g":"C","v":-13.3},{"p":"E","g":"C","v":-13.3},{"p":"E","g":"C","v":-13.3},{"p":"E","g":"C","v":-13.3},{"p":"E","g":"C","v":-13.3},{"p":"E","g":"C","v":-13.3},{"p":"E","g":"C","v":-13.3},{"p":"E","g":"C","v":-13.3},{"p":"E","g":"C","v":-13.3},{"p":"E","g":"C","v":-13.3},{"p":"E","g":"C","v":-13.3},{"p":"E","g":"C","v":-13.3},{"p":"E","g":"C","v":-13.3},{"p":"E","g":"C","v":-13.3},{"p":"E","g":"C","v":-11.5},{"p":"E","g":"C","v":-10.0},{"p":"E","g":"C","v":-9.9},{"p":"E","g":"C","v":-9.6},{"p":"E","g":"C","v":-9.4},{"p":"E","g":"C","v":-9.0},{"p":"E","g":"C","v":-8.8},{"p":"E","g":"C","v":-8.6},{"p":"E","g":"C","v":-8.4},{"p":"E","g":"C","v":-8.2},{"p":"E","g":"C","v":-8.0},{"p":"E","g":"C","v":-7.8},{"p":"E","g":"C","v":-7.6},{"p":"E","g":"C","v":-7.4},{"p":"E","g":"C","v":-7.2},{"p":"E","g":"C","v":-7.0},{"p":"E","g":"C","v":-6.8},{"p":"E","g":"C","v":-6.6},{"p":"E","g":"C","v":-6.4},{"p":"E","g":"C","v":-6.2},{"p":"E","g":"C","v":-6.0},{"p":"E","g":"C","v":-5.8},{"p":"E","g":"C","v":-5.6},{"p":"E","g":"C","v":-5.4},{"p":"E","g":"C","v":-5.3},{"p":"E","g":"C","v":-5.2},{"p":"E","g":"C","v":-5.0},{"p":"E","g":"C","v":-4.9},{"p":"E","g":"C","v":-4.7},{"p":"E","g":"C","v":-4.6},{"p":"E","g":"C","v":-4.4},{"p":"E","g":"C","v":-4.3},{"p":"E","g":"C","v":-4.2},{"p":"E","g":"C","v":-4.1},{"p":"E","g":"C","v":-4.0},{"p":"E","g":"C","v":-3.9},{"p":"E","g":"C","v":-3.7},{"p":"E","g":"C","v":-3.5},{"p":"E","g":"C","v":-3.3},{"p":"E","g":"C","v":-3.1},{"p":"E","g":"C","v":-3.0},{"p":"E","g":"C","v":-2.9},{"p":"E","g":"C","v":-2.8},{"p":"E","g":"C","v":-2.6},{"p":"E","g":"C","v":-2.3},{"p":"E","g":"C","v":-2.0},
{"p":"E","g":"V","v":-13.3},{"p":"E","g":"V","v":-13.3},{"p":"E","g":"V","v":-13.3},{"p":"E","g":"V","v":-13.3},{"p":"E","g":"V","v":-7.8},{"p":"E","g":"V","v":-6.1},{"p":"E","g":"V","v":-4.4},{"p":"E","g":"V","v":-3.2},{"p":"E","g":"V","v":-2.0},{"p":"E","g":"V","v":-1.9},{"p":"E","g":"V","v":-1.8},{"p":"E","g":"V","v":-1.5},{"p":"E","g":"V","v":-1.0},{"p":"E","g":"V","v":-0.6},{"p":"E","g":"V","v":-0.2},{"p":"E","g":"V","v":0.1},{"p":"E","g":"V","v":0.4},{"p":"E","g":"V","v":0.6},{"p":"E","g":"V","v":0.8},{"p":"E","g":"V","v":0.9},{"p":"E","g":"V","v":0.9},{"p":"E","g":"V","v":1.1},{"p":"E","g":"V","v":1.3},{"p":"E","g":"V","v":1.5},{"p":"E","g":"V","v":1.7},{"p":"E","g":"V","v":1.9},{"p":"E","g":"V","v":2.0},{"p":"E","g":"V","v":2.1},{"p":"E","g":"V","v":2.2},{"p":"E","g":"V","v":2.3},{"p":"E","g":"V","v":2.4},{"p":"E","g":"V","v":2.6},{"p":"E","g":"V","v":2.8},{"p":"E","g":"V","v":2.9},{"p":"E","g":"V","v":3.0},{"p":"E","g":"V","v":3.2},{"p":"E","g":"V","v":3.3},{"p":"E","g":"V","v":3.4},{"p":"E","g":"V","v":3.5},{"p":"E","g":"V","v":3.7},{"p":"E","g":"V","v":3.8},
{"p":"E","g":"J","v":-5.5},{"p":"E","g":"J","v":-4.2},{"p":"E","g":"J","v":-3.3},{"p":"E","g":"J","v":-1.5},{"p":"E","g":"J","v":-0.8},{"p":"E","g":"J","v":-0.2},{"p":"E","g":"J","v":0.1},{"p":"E","g":"J","v":0.2},{"p":"E","g":"J","v":0.6},{"p":"E","g":"J","v":1.0},{"p":"E","g":"J","v":1.3},{"p":"E","g":"J","v":1.6},{"p":"E","g":"J","v":1.8},{"p":"E","g":"J","v":1.9},{"p":"E","g":"J","v":2.0},{"p":"E","g":"J","v":2.1},{"p":"E","g":"J","v":2.4},{"p":"E","g":"J","v":2.7},{"p":"E","g":"J","v":3.0},{"p":"E","g":"J","v":3.2},{"p":"E","g":"J","v":3.5},{"p":"E","g":"J","v":3.8},{"p":"E","g":"J","v":3.9},{"p":"E","g":"J","v":4.0},{"p":"E","g":"J","v":4.2},{"p":"E","g":"J","v":4.4},{"p":"E","g":"J","v":4.7},{"p":"E","g":"J","v":5.0},{"p":"E","g":"J","v":5.3},{"p":"E","g":"J","v":5.45},
{"p":"E","g":"S","v":-3.8},{"p":"E","g":"S","v":-3.6},{"p":"E","g":"S","v":-2.2},{"p":"E","g":"S","v":-1.6},{"p":"E","g":"S","v":-0.7},{"p":"E","g":"S","v":-0.4},{"p":"E","g":"S","v":-0.1},{"p":"E","g":"S","v":0.2},{"p":"E","g":"S","v":0.4},{"p":"E","g":"S","v":0.6},{"p":"E","g":"S","v":0.8},{"p":"E","g":"S","v":1.0},{"p":"E","g":"S","v":1.1},{"p":"E","g":"S","v":1.2},{"p":"E","g":"S","v":1.3},{"p":"E","g":"S","v":1.4},{"p":"E","g":"S","v":1.6},{"p":"E","g":"S","v":1.7},{"p":"E","g":"S","v":1.9},{"p":"E","g":"S","v":2.0},{"p":"E","g":"S","v":2.1},{"p":"E","g":"S","v":2.2},{"p":"E","g":"S","v":2.3},{"p":"E","g":"S","v":2.4},{"p":"E","g":"S","v":2.5},{"p":"E","g":"S","v":2.6},{"p":"E","g":"S","v":2.7},{"p":"E","g":"S","v":2.7},{"p":"E","g":"S","v":2.8},{"p":"E","g":"S","v":2.9},{"p":"E","g":"S","v":3.0},{"p":"E","g":"S","v":3.0},{"p":"E","g":"S","v":3.1},{"p":"E","g":"S","v":3.2},{"p":"E","g":"S","v":3.3},{"p":"E","g":"S","v":3.3},{"p":"E","g":"S","v":3.4},{"p":"E","g":"S","v":3.5},{"p":"E","g":"S","v":3.5},{"p":"E","g":"S","v":3.6},{"p":"E","g":"S","v":3.7},{"p":"E","g":"S","v":3.7},{"p":"E","g":"S","v":3.8},{"p":"E","g":"S","v":3.9},{"p":"E","g":"S","v":4.0},{"p":"E","g":"S","v":4.0},{"p":"E","g":"S","v":4.1},{"p":"E","g":"S","v":4.2},{"p":"E","g":"S","v":4.2},{"p":"E","g":"S","v":4.3},{"p":"E","g":"S","v":4.4},{"p":"E","g":"S","v":4.4},{"p":"E","g":"S","v":4.5},{"p":"E","g":"S","v":4.6},{"p":"E","g":"S","v":4.7},{"p":"E","g":"S","v":4.9},{"p":"E","g":"S","v":5.1},{"p":"E","g":"S","v":5.25},
{"p":"F","g":"C","v":-13.3},{"p":"F","g":"C","v":-13.3},{"p":"F","g":"C","v":-13.3},{"p":"F","g":"C","v":-13.3},{"p":"F","g":"C","v":-13.3},{"p":"F","g":"C","v":-13.3},{"p":"F","g":"C","v":-13.3},{"p":"F","g":"C","v":-13.3},{"p":"F","g":"C","v":-13.3},{"p":"F","g":"C","v":-13.3},{"p":"F","g":"C","v":-13.3},{"p":"F","g":"C","v":-13.3},{"p":"F","g":"C","v":-13.3},{"p":"F","g":"C","v":-13.3},{"p":"F","g":"C","v":-13.3},{"p":"F","g":"C","v":-13.3},{"p":"F","g":"C","v":-13.3},{"p":"F","g":"C","v":-13.3},{"p":"F","g":"C","v":-13.3},{"p":"F","g":"C","v":-13.3},{"p":"F","g":"C","v":-13.3},{"p":"F","g":"C","v":-13.3},{"p":"F","g":"C","v":-13.3},{"p":"F","g":"C","v":-13.3},{"p":"F","g":"C","v":-13.3},{"p":"F","g":"C","v":-13.3},{"p":"F","g":"C","v":-13.3},{"p":"F","g":"C","v":-13.3},{"p":"F","g":"C","v":-13.3},{"p":"F","g":"C","v":-13.3},{"p":"F","g":"C","v":-13.3},{"p":"F","g":"C","v":-13.3},{"p":"F","g":"C","v":-13.3},{"p":"F","g":"C","v":-13.3},{"p":"F","g":"C","v":-13.3},{"p":"F","g":"C","v":-13.3},{"p":"F","g":"C","v":-11.8},{"p":"F","g":"C","v":-11.6},{"p":"F","g":"C","v":-11.4},{"p":"F","g":"C","v":-11.2},{"p":"F","g":"C","v":-11.1},{"p":"F","g":"C","v":-11.0},{"p":"F","g":"C","v":-10.9},{"p":"F","g":"C","v":-10.8},{"p":"F","g":"C","v":-10.8},{"p":"F","g":"C","v":-10.7},{"p":"F","g":"C","v":-10.7},{"p":"F","g":"C","v":-10.7},{"p":"F","g":"C","v":-10.3},{"p":"F","g":"C","v":-10.0},{"p":"F","g":"C","v":-9.9},{"p":"F","g":"C","v":-9.6},{"p":"F","g":"C","v":-9.3},{"p":"F","g":"C","v":-9.0},{"p":"F","g":"C","v":-8.6},{"p":"F","g":"C","v":-8.2},{"p":"F","g":"C","v":-7.6},{"p":"F","g":"C","v":-7.1},{"p":"F","g":"C","v":-6.5},{"p":"F","g":"C","v":-5.8},{"p":"F","g":"C","v":-5.3},{"p":"F","g":"C","v":-5.0},{"p":"F","g":"C","v":-3.5},
{"p":"F","g":"V","v":-13.3},{"p":"F","g":"V","v":-13.3},{"p":"F","g":"V","v":-13.3},{"p":"F","g":"V","v":-13.3},{"p":"F","g":"V","v":-13.3},{"p":"F","g":"V","v":-8.3},{"p":"F","g":"V","v":-5.3},{"p":"F","g":"V","v":-4.8},{"p":"F","g":"V","v":-3.6},{"p":"F","g":"V","v":-3.1},{"p":"F","g":"V","v":-2.4},{"p":"F","g":"V","v":-1.8},{"p":"F","g":"V","v":-1.2},{"p":"F","g":"V","v":-0.7},{"p":"F","g":"V","v":-0.3},{"p":"F","g":"V","v":0.0},{"p":"F","g":"V","v":0.3},{"p":"F","g":"V","v":0.5},{"p":"F","g":"V","v":0.7},{"p":"F","g":"V","v":0.8},{"p":"F","g":"V","v":0.8},{"p":"F","g":"V","v":1.0},{"p":"F","g":"V","v":1.2},{"p":"F","g":"V","v":1.4},{"p":"F","g":"V","v":1.6},{"p":"F","g":"V","v":1.8},{"p":"F","g":"V","v":2.0},{"p":"F","g":"V","v":2.2},{"p":"F","g":"V","v":2.4},{"p":"F","g":"V","v":2.6},{"p":"F","g":"V","v":2.7},{"p":"F","g":"V","v":2.9},{"p":"F","g":"V","v":3.1},{"p":"F","g":"V","v":3.3},{"p":"F","g":"V","v":3.5},{"p":"F","g":"V","v":3.8},{"p":"F","g":"V","v":4.1},{"p":"F","g":"V","v":4.4},{"p":"F","g":"V","v":4.8},{"p":"F","g":"V","v":5.2},{"p":"F","g":"V","v":5.45},
{"p":"F","g":"J","v":-13.3},{"p":"F","g":"J","v":-1.7},{"p":"F","g":"J","v":-1.6},{"p":"F","g":"J","v":0.4},{"p":"F","g":"J","v":0.7},{"p":"F","g":"J","v":1.2},{"p":"F","g":"J","v":2.0},{"p":"F","g":"J","v":2.6},{"p":"F","g":"J","v":2.8},{"p":"F","g":"J","v":2.9},{"p":"F","g":"J","v":3.0},{"p":"F","g":"J","v":3.1},{"p":"F","g":"J","v":3.2},{"p":"F","g":"J","v":3.3},{"p":"F","g":"J","v":3.3},{"p":"F","g":"J","v":3.4},{"p":"F","g":"J","v":3.6},{"p":"F","g":"J","v":3.9},{"p":"F","g":"J","v":4.3},{"p":"F","g":"J","v":4.7},{"p":"F","g":"J","v":5.1},{"p":"F","g":"J","v":5.4},{"p":"F","g":"J","v":5.5},{"p":"F","g":"J","v":5.7},{"p":"F","g":"J","v":5.9},{"p":"F","g":"J","v":6.1},{"p":"F","g":"J","v":6.3},{"p":"F","g":"J","v":6.5},{"p":"F","g":"J","v":6.7},{"p":"F","g":"J","v":6.8},
{"p":"F","g":"S","v":-13.3},{"p":"F","g":"S","v":0.05},{"p":"F","g":"S","v":1.0},{"p":"F","g":"S","v":1.6},{"p":"F","g":"S","v":2.0},{"p":"F","g":"S","v":2.3},{"p":"F","g":"S","v":2.5},{"p":"F","g":"S","v":2.6},{"p":"F","g":"S","v":2.7},{"p":"F","g":"S","v":2.8},{"p":"F","g":"S","v":2.8},{"p":"F","g":"S","v":2.9},{"p":"F","g":"S","v":2.9},{"p":"F","g":"S","v":3.0},{"p":"F","g":"S","v":3.0},{"p":"F","g":"S","v":3.1},{"p":"F","g":"S","v":3.2},{"p":"F","g":"S","v":3.3},{"p":"F","g":"S","v":3.3},{"p":"F","g":"S","v":3.4},{"p":"F","g":"S","v":3.5},{"p":"F","g":"S","v":3.5},{"p":"F","g":"S","v":3.6},{"p":"F","g":"S","v":3.7},{"p":"F","g":"S","v":3.7},{"p":"F","g":"S","v":3.8},{"p":"F","g":"S","v":3.9},{"p":"F","g":"S","v":3.9},{"p":"F","g":"S","v":4.0},{"p":"F","g":"S","v":4.1},{"p":"F","g":"S","v":4.2},{"p":"F","g":"S","v":4.3},{"p":"F","g":"S","v":4.4},{"p":"F","g":"S","v":4.5},{"p":"F","g":"S","v":4.6},{"p":"F","g":"S","v":4.7},{"p":"F","g":"S","v":4.7},{"p":"F","g":"S","v":4.8},{"p":"F","g":"S","v":4.9},{"p":"F","g":"S","v":5.0},{"p":"F","g":"S","v":5.0},{"p":"F","g":"S","v":5.1},{"p":"F","g":"S","v":5.2},{"p":"F","g":"S","v":5.3},{"p":"F","g":"S","v":5.4},{"p":"F","g":"S","v":5.5},{"p":"F","g":"S","v":5.6},{"p":"F","g":"S","v":5.7},{"p":"F","g":"S","v":5.8},{"p":"F","g":"S","v":5.9},{"p":"F","g":"S","v":6.0},{"p":"F","g":"S","v":6.1},{"p":"F","g":"S","v":6.2},{"p":"F","g":"S","v":6.3},{"p":"F","g":"S","v":6.5},{"p":"F","g":"S","v":6.6},{"p":"F","g":"S","v":6.8},{"p":"F","g":"S","v":7.0},
{"p":"G","g":"C","v":-13.3},{"p":"G","g":"C","v":-13.3},{"p":"G","g":"C","v":-13.3},{"p":"G","g":"C","v":-13.3},{"p":"G","g":"C","v":-13.3},{"p":"G","g":"C","v":-13.3},{"p":"G","g":"C","v":-13.3},{"p":"G","g":"C","v":-13.3},{"p":"G","g":"C","v":-13.3},{"p":"G","g":"C","v":-13.3},{"p":"G","g":"C","v":-13.3},{"p":"G","g":"C","v":-13.3},{"p":"G","g":"C","v":-13.3},{"p":"G","g":"C","v":-13.3},{"p":"G","g":"C","v":-13.3},{"p":"G","g":"C","v":-13.3},{"p":"G","g":"C","v":-13.3},{"p":"G","g":"C","v":-13.3},{"p":"G","g":"C","v":-13.3},{"p":"G","g":"C","v":-13.3},{"p":"G","g":"C","v":-13.3},{"p":"G","g":"C","v":-13.3},{"p":"G","g":"C","v":-13.3},{"p":"G","g":"C","v":-13.3},{"p":"G","g":"C","v":-13.3},{"p":"G","g":"C","v":-13.3},{"p":"G","g":"C","v":-13.3},{"p":"G","g":"C","v":-13.3},{"p":"G","g":"C","v":-13.3},{"p":"G","g":"C","v":-13.3},{"p":"G","g":"C","v":-13.3},{"p":"G","g":"C","v":-13.3},{"p":"G","g":"C","v":-13.3},{"p":"G","g":"C","v":-13.3},{"p":"G","g":"C","v":-13.3},{"p":"G","g":"C","v":-13.3},{"p":"G","g":"C","v":-13.3},{"p":"G","g":"C","v":-13.3},{"p":"G","g":"C","v":-13.3},{"p":"G","g":"C","v":-13.3},{"p":"G","g":"C","v":-13.3},{"p":"G","g":"C","v":-13.3},{"p":"G","g":"C","v":-13.3},{"p":"G","g":"C","v":-13.3},{"p":"G","g":"C","v":-13.3},{"p":"G","g":"C","v":-13.3},{"p":"G","g":"C","v":-13.3},{"p":"G","g":"C","v":-13.3},{"p":"G","g":"C","v":-13.3},{"p":"G","g":"C","v":-13.3},{"p":"G","g":"C","v":-13.3},{"p":"G","g":"C","v":-13.3},{"p":"G","g":"C","v":-13.3},{"p":"G","g":"C","v":-9.8},{"p":"G","g":"C","v":-8.3},{"p":"G","g":"C","v":-7.6},{"p":"G","g":"C","v":-7.4},{"p":"G","g":"C","v":-6.6},{"p":"G","g":"C","v":-6.6},{"p":"G","g":"C","v":-6.3},{"p":"G","g":"C","v":-5.9},{"p":"G","g":"C","v":-5.2},{"p":"G","g":"C","v":-5.2},
{"p":"G","g":"V","v":-13.3},{"p":"G","g":"V","v":-13.3},{"p":"G","g":"V","v":-13.3},{"p":"G","g":"V","v":-13.3},{"p":"G","g":"V","v":-13.3},{"p":"G","g":"V","v":-13.3},{"p":"G","g":"V","v":-13.3},{"p":"G","g":"V","v":-13.3},{"p":"G","g":"V","v":-3.2},{"p":"G","g":"V","v":0.4},
{"p":"G","g":"J","v":-13.3},{"p":"G","g":"J","v":-13.3},{"p":"G","g":"J","v":-13.3},{"p":"G","g":"J","v":-13.3},{"p":"G","g":"J","v":-8.9},{"p":"G","g":"J","v":-8.2},{"p":"G","g":"J","v":-7.8},{"p":"G","g":"J","v":-3.4},{"p":"G","g":"J","v":-2.9},{"p":"G","g":"J","v":-2.6},{"p":"G","g":"J","v":-2.3},{"p":"G","g":"J","v":-2.1},{"p":"G","g":"J","v":-1.6},{"p":"G","g":"J","v":-0.5},{"p":"G","g":"J","v":0.7},{"p":"G","g":"J","v":1.8},{"p":"G","g":"J","v":3.4},{"p":"G","g":"J","v":4.5},{"p":"G","g":"J","v":4.75},
{"p":"G","g":"S","v":-13.3},{"p":"G","g":"S","v":-13.3},{"p":"G","g":"S","v":-13.3},{"p":"G","g":"S","v":-13.3},{"p":"G","g":"S","v":-13.3},{"p":"G","g":"S","v":-13.3},{"p":"G","g":"S","v":-13.3},{"p":"G","g":"S","v":-13.3},{"p":"G","g":"S","v":-10.8},{"p":"G","g":"S","v":-8.5},{"p":"G","g":"S","v":-6.3},{"p":"G","g":"S","v":-5.7},{"p":"G","g":"S","v":-5.3},{"p":"G","g":"S","v":-4.9},{"p":"G","g":"S","v":-4.6},{"p":"G","g":"S","v":-4.3},{"p":"G","g":"S","v":-4.0},{"p":"G","g":"S","v":-3.7},{"p":"G","g":"S","v":-3.4},{"p":"G","g":"S","v":-3.1},{"p":"G","g":"S","v":-2.9},{"p":"G","g":"S","v":-2.7},{"p":"G","g":"S","v":-2.5},{"p":"G","g":"S","v":-2.2},{"p":"G","g":"S","v":-1.9},{"p":"G","g":"S","v":-1.7},{"p":"G","g":"S","v":-1.5},{"p":"G","g":"S","v":-1.3},{"p":"G","g":"S","v":-0.9},{"p":"G","g":"S","v":0.5},{"p":"G","g":"S","v":1.7},{"p":"G","g":"S","v":3.3},{"p":"G","g":"S","v":4.1},{"p":"G","g":"S","v":4.5},
{"p":"H","g":"C","v":-13.3},{"p":"H","g":"C","v":-13.3},{"p":"H","g":"C","v":-13.3},{"p":"H","g":"C","v":-13.3},{"p":"H","g":"C","v":-13.3},{"p":"H","g":"C","v":-13.3},{"p":"H","g":"C","v":-13.3},{"p":"H","g":"C","v":-13.3},{"p":"H","g":"C","v":-13.3},{"p":"H","g":"C","v":-13.3},{"p":"H","g":"C","v":-13.3},{"p":"H","g":"C","v":-13.3},{"p":"H","g":"C","v":-13.3},{"p":"H","g":"C","v":-13.3},{"p":"H","g":"C","v":-13.3},{"p":"H","g":"C","v":-13.3},{"p":"H","g":"C","v":-13.3},{"p":"H","g":"C","v":-13.3},{"p":"H","g":"C","v":-13.3},{"p":"H","g":"C","v":-13.3},{"p":"H","g":"C","v":-13.3},{"p":"H","g":"C","v":-13.3},{"p":"H","g":"C","v":-13.3},{"p":"H","g":"C","v":-13.3},{"p":"H","g":"C","v":-13.3},{"p":"H","g":"C","v":-13.3},{"p":"H","g":"C","v":-13.3},{"p":"H","g":"C","v":-13.3},{"p":"H","g":"C","v":-13.3},{"p":"H","g":"C","v":-13.3},{"p":"H","g":"C","v":-13.3},{"p":"H","g":"C","v":-13.3},{"p":"H","g":"C","v":-13.3},{"p":"H","g":"C","v":-13.3},{"p":"H","g":"C","v":-13.3},{"p":"H","g":"C","v":-13.3},{"p":"H","g":"C","v":-13.3},{"p":"H","g":"C","v":-13.3},{"p":"H","g":"C","v":-13.3},{"p":"H","g":"C","v":-13.3},{"p":"H","g":"C","v":-13.3},{"p":"H","g":"C","v":-13.3},{"p":"H","g":"C","v":-13.3},{"p":"H","g":"C","v":-13.3},{"p":"H","g":"C","v":-13.3},{"p":"H","g":"C","v":-13.3},{"p":"H","g":"C","v":-13.3},{"p":"H","g":"C","v":-13.3},{"p":"H","g":"C","v":-13.3},{"p":"H","g":"C","v":-13.3},{"p":"H","g":"C","v":-13.3},{"p":"H","g":"C","v":-11.3},{"p":"H","g":"C","v":-10.5},{"p":"H","g":"C","v":-9.8},{"p":"H","g":"C","v":-9.1},{"p":"H","g":"C","v":-8.5},{"p":"H","g":"C","v":-7.5},{"p":"H","g":"C","v":-6.5},{"p":"H","g":"C","v":-6.5},{"p":"H","g":"C","v":-6.3},{"p":"H","g":"C","v":-6.3},{"p":"H","g":"C","v":-4.2},{"p":"H","g":"C","v":-2.3},
{"p":"H","g":"V","v":-13.3},{"p":"H","g":"V","v":-13.3},{"p":"H","g":"V","v":-13.3},{"p":"H","g":"V","v":-13.3},{"p":"H","g":"V","v":-13.3},{"p":"H","g":"V","v":-7.5},{"p":"H","g":"V","v":-6.1},{"p":"H","g":"V","v":-1.3},{"p":"H","g":"V","v":0.1},{"p":"H","g":"V","v":0.9},
{"p":"H","g":"J","v":-10.7},{"p":"H","g":"J","v":-5.3},{"p":"H","g":"J","v":-3.3},{"p":"H","g":"J","v":-2.4},{"p":"H","g":"J","v":-2.0},{"p":"H","g":"J","v":-1.6},{"p":"H","g":"J","v":-1.0},{"p":"H","g":"J","v":-0.5},{"p":"H","g":"J","v":0.0},{"p":"H","g":"J","v":0.4},{"p":"H","g":"J","v":0.9},{"p":"H","g":"J","v":1.3},{"p":"H","g":"J","v":1.6},{"p":"H","g":"J","v":2.0},{"p":"H","g":"J","v":2.8},{"p":"H","g":"J","v":3.0},{"p":"H","g":"J","v":3.3},{"p":"H","g":"J","v":3.6},{"p":"H","g":"J","v":3.8},
{"p":"H","g":"S","v":-13.3},{"p":"H","g":"S","v":-13.3},{"p":"H","g":"S","v":-3.5},{"p":"H","g":"S","v":-3.3},{"p":"H","g":"S","v":-2.4},{"p":"H","g":"S","v":-1.8},{"p":"H","g":"S","v":-1.4},{"p":"H","g":"S","v":-1.2},{"p":"H","g":"S","v":-1.0},{"p":"H","g":"S","v":-0.8},{"p":"H","g":"S","v":-0.6},{"p":"H","g":"S","v":-0.4},{"p":"H","g":"S","v":-0.2},{"p":"H","g":"S","v":-0.1},{"p":"H","g":"S","v":0.0},{"p":"H","g":"S","v":0.1},{"p":"H","g":"S","v":0.2},{"p":"H","g":"S","v":0.3},{"p":"H","g":"S","v":0.4},{"p":"H","g":"S","v":0.6},{"p":"H","g":"S","v":0.8},{"p":"H","g":"S","v":1.0},{"p":"H","g":"S","v":1.2},{"p":"H","g":"S","v":1.4},{"p":"H","g":"S","v":1.6},{"p":"H","g":"S","v":1.8},{"p":"H","g":"S","v":2.0},{"p":"H","g":"S","v":2.2},{"p":"H","g":"S","v":2.5},{"p":"H","g":"S","v":2.8},{"p":"H","g":"S","v":3.2},{"p":"H","g":"S","v":3.6},{"p":"H","g":"S","v":4.0},{"p":"H","g":"S","v":4.5},
{"p":"I","g":"C","v":-13.3},{"p":"I","g":"C","v":-13.3},{"p":"I","g":"C","v":-13.3},{"p":"I","g":"C","v":-13.3},{"p":"I","g":"C","v":-13.3},{"p":"I","g":"C","v":-13.3},{"p":"I","g":"C","v":-13.3},{"p":"I","g":"C","v":-13.3},{"p":"I","g":"C","v":-13.3},{"p":"I","g":"C","v":-13.3},{"p":"I","g":"C","v":-13.3},{"p":"I","g":"C","v":-13.3},{"p":"I","g":"C","v":-13.3},{"p":"I","g":"C","v":-13.3},{"p":"I","g":"C","v":-13.3},{"p":"I","g":"C","v":-13.3},{"p":"I","g":"C","v":-13.3},{"p":"I","g":"C","v":-13.3},{"p":"I","g":"C","v":-12.2},{"p":"I","g":"C","v":-11.8},{"p":"I","g":"C","v":-11.3},{"p":"I","g":"C","v":-10.9},{"p":"I","g":"C","v":-10.6},{"p":"I","g":"C","v":-10.3},{"p":"I","g":"C","v":-10.1},{"p":"I","g":"C","v":-9.9},{"p":"I","g":"C","v":-9.7},{"p":"I","g":"C","v":-9.5},{"p":"I","g":"C","v":-9.3},{"p":"I","g":"C","v":-9.2},{"p":"I","g":"C","v":-9.0},{"p":"I","g":"C","v":-8.9},{"p":"I","g":"C","v":-8.7},{"p":"I","g":"C","v":-8.5},{"p":"I","g":"C","v":-8.3},{"p":"I","g":"C","v":-8.1},{"p":"I","g":"C","v":-7.9},{"p":"I","g":"C","v":-7.7},{"p":"I","g":"C","v":-7.5},{"p":"I","g":"C","v":-7.2},{"p":"I","g":"C","v":-7.0},{"p":"I","g":"C","v":-6.8},{"p":"I","g":"C","v":-6.6},{"p":"I","g":"C","v":-6.4},{"p":"I","g":"C","v":-6.2},{"p":"I","g":"C","v":-6.0},{"p":"I","g":"C","v":-5.9},{"p":"I","g":"C","v":-5.8},{"p":"I","g":"C","v":-5.6},{"p":"I","g":"C","v":-5.3},{"p":"I","g":"C","v":-5.0},{"p":"I","g":"C","v":-4.8},{"p":"I","g":"C","v":-4.5},{"p":"I","g":"C","v":-4.2},{"p":"I","g":"C","v":-3.9},{"p":"I","g":"C","v":-3.7},{"p":"I","g":"C","v":-3.5},{"p":"I","g":"C","v":-3.3},{"p":"I","g":"C","v":-2.8},{"p":"I","g":"C","v":-2.2},{"p":"I","g":"C","v":-1.6},{"p":"I","g":"C","v":-1.0},{"p":"I","g":"C","v":-0.8},
{"p":"I","g":"V","v":-13.3},{"p":"I","g":"V","v":-13.3},{"p":"I","g":"V","v":-8.2},{"p":"I","g":"V","v":-7.8},{"p":"I","g":"V","v":-1.8},{"p":"I","g":"V","v":-1.8},{"p":"I","g":"V","v":0.2},{"p":"I","g":"V","v":1.9},{"p":"I","g":"V","v":2.1},{"p":"I","g":"V","v":2.3},
{"p":"I","g":"J","v":-2.4},{"p":"I","g":"J","v":-0.2},{"p":"I","g":"J","v":0.6},{"p":"I","g":"J","v":1.0},{"p":"I","g":"J","v":1.35},{"p":"I","g":"J","v":1.6},{"p":"I","g":"J","v":1.9},{"p":"I","g":"J","v":2.1},{"p":"I","g":"J","v":2.2},{"p":"I","g":"J","v":2.4},{"p":"I","g":"J","v":2.6},{"p":"I","g":"J","v":2.9},{"p":"I","g":"J","v":3.2},{"p":"I","g":"J","v":3.4},{"p":"I","g":"J","v":3.5},{"p":"I","g":"J","v":3.9},{"p":"I","g":"J","v":4.4},{"p":"I","g":"J","v":4.9},{"p":"I","g":"J","v":5.25},
{"p":"I","g":"S","v":-13.3},{"p":"I","g":"S","v":-6.2},{"p":"I","g":"S","v":-2.2},{"p":"I","g":"S","v":-1.6},{"p":"I","g":"S","v":-1.1},{"p":"I","g":"S","v":-0.6},{"p":"I","g":"S","v":-0.2},{"p":"I","g":"S","v":0.1},{"p":"I","g":"S","v":0.25},{"p":"I","g":"S","v":0.4},{"p":"I","g":"S","v":0.6},{"p":"I","g":"S","v":0.8},{"p":"I","g":"S","v":0.9},{"p":"I","g":"S","v":1.0},{"p":"I","g":"S","v":1.1},{"p":"I","g":"S","v":1.2},{"p":"I","g":"S","v":1.3},{"p":"I","g":"S","v":1.4},{"p":"I","g":"S","v":1.5},{"p":"I","g":"S","v":1.6},{"p":"I","g":"S","v":1.7},{"p":"I","g":"S","v":1.8},{"p":"I","g":"S","v":1.9},{"p":"I","g":"S","v":2.0},{"p":"I","g":"S","v":2.1},{"p":"I","g":"S","v":2.1},{"p":"I","g":"S","v":2.2},{"p":"I","g":"S","v":2.3},{"p":"I","g":"S","v":2.4},{"p":"I","g":"S","v":2.6},{"p":"I","g":"S","v":2.9},{"p":"I","g":"S","v":3.2},{"p":"I","g":"S","v":3.6},{"p":"I","g":"S","v":4.2},
{"p":"J","g":"C","v":-13.3},{"p":"J","g":"C","v":-13.3},{"p":"J","g":"C","v":-13.3},{"p":"J","g":"C","v":-13.3},{"p":"J","g":"C","v":-13.3},{"p":"J","g":"C","v":-13.3},{"p":"J","g":"C","v":-13.3},{"p":"J","g":"C","v":-13.3},{"p":"J","g":"C","v":-13.3},{"p":"J","g":"C","v":-13.3},{"p":"J","g":"C","v":-13.3},{"p":"J","g":"C","v":-13.3},{"p":"J","g":"C","v":-13.3},{"p":"J","g":"C","v":-13.3},{"p":"J","g":"C","v":-13.3},{"p":"J","g":"C","v":-9.3},{"p":"J","g":"C","v":-8.0},{"p":"J","g":"C","v":-7.6},{"p":"J","g":"C","v":-7.3},{"p":"J","g":"C","v":-7.1},{"p":"J","g":"C","v":-6.9},{"p":"J","g":"C","v":-6.8},{"p":"J","g":"C","v":-6.7},{"p":"J","g":"C","v":-6.6},{"p":"J","g":"C","v":-6.5},{"p":"J","g":"C","v":-6.3},{"p":"J","g":"C","v":-6.2},{"p":"J","g":"C","v":-6.1},{"p":"J","g":"C","v":-6.1},{"p":"J","g":"C","v":-6.0},{"p":"J","g":"C","v":-5.8},{"p":"J","g":"C","v":-5.7},{"p":"J","g":"C","v":-5.5},{"p":"J","g":"C","v":-5.4},{"p":"J","g":"C","v":-5.3},{"p":"J","g":"C","v":-5.2},{"p":"J","g":"C","v":-5.1},{"p":"J","g":"C","v":-5.0},{"p":"J","g":"C","v":-4.9},{"p":"J","g":"C","v":-4.8},{"p":"J","g":"C","v":-4.7},{"p":"J","g":"C","v":-4.6},{"p":"J","g":"C","v":-4.5},{"p":"J","g":"C","v":-4.4},{"p":"J","g":"C","v":-4.3},{"p":"J","g":"C","v":-4.2},{"p":"J","g":"C","v":-4.1},{"p":"J","g":"C","v":-3.9},{"p":"J","g":"C","v":-3.6},{"p":"J","g":"C","v":-3.3},{"p":"J","g":"C","v":-3.0},{"p":"J","g":"C","v":-2.6},{"p":"J","g":"C","v":-2.0},{"p":"J","g":"C","v":-1.6},{"p":"J","g":"C","v":-1.2},{"p":"J","g":"C","v":-0.45},
{"p":"J","g":"V","v":-13.3},{"p":"J","g":"V","v":-9.0},{"p":"J","g":"V","v":-1.5},{"p":"J","g":"V","v":-1.3},{"p":"J","g":"V","v":-0.15},{"p":"J","g":"V","v":0.3},{"p":"J","g":"V","v":1.9},{"p":"J","g":"V","v":3.9},{"p":"J","g":"V","v":5.5},
{"p":"J","g":"J","v":-13.3},{"p":"J","g":"J","v":-13.3},{"p":"J","g":"J","v":-7.4},{"p":"J","g":"J","v":2.2},{"p":"J","g":"J","v":2.3},{"p":"J","g":"J","v":2.3},{"p":"J","g":"J","v":2.4},{"p":"J","g":"J","v":2.5},{"p":"J","g":"J","v":2.9},{"p":"J","g":"J","v":3.7},{"p":"J","g":"J","v":3.9},{"p":"J","g":"J","v":4.4},{"p":"J","g":"J","v":4.8},{"p":"J","g":"J","v":5.3},{"p":"J","g":"J","v":6.1},{"p":"J","g":"J","v":6.3},{"p":"J","g":"J","v":6.6},{"p":"J","g":"J","v":7.0},{"p":"J","g":"J","v":7.3},{"p":"J","g":"J","v":7.6},
{"p":"J","g":"S","v":-13.3},{"p":"J","g":"S","v":-5.9},{"p":"J","g":"S","v":-2.8},{"p":"J","g":"S","v":-2.0},{"p":"J","g":"S","v":0.0},{"p":"J","g":"S","v":0.1},{"p":"J","g":"S","v":0.9},{"p":"J","g":"S","v":1.6},{"p":"J","g":"S","v":2.2},{"p":"J","g":"S","v":2.6},{"p":"J","g":"S","v":2.9},{"p":"J","g":"S","v":3.0},{"p":"J","g":"S","v":3.1},{"p":"J","g":"S","v":3.2},{"p":"J","g":"S","v":3.3},{"p":"J","g":"S","v":3.5},{"p":"J","g":"S","v":3.7},{"p":"J","g":"S","v":3.9},{"p":"J","g":"S","v":4.1},{"p":"J","g":"S","v":4.2},{"p":"J","g":"S","v":4.3},{"p":"J","g":"S","v":4.4},{"p":"J","g":"S","v":4.5},{"p":"J","g":"S","v":4.6},{"p":"J","g":"S","v":4.7},{"p":"J","g":"S","v":4.8},{"p":"J","g":"S","v":4.8},{"p":"J","g":"S","v":4.9},{"p":"J","g":"S","v":5.0},{"p":"J","g":"S","v":5.0},{"p":"J","g":"S","v":5.1},{"p":"J","g":"S","v":5.1},{"p":"J","g":"S","v":5.2},{"p":"J","g":"S","v":5.2},{"p":"J","g":"S","v":5.3},{"p":"J","g":"S","v":5.3},{"p":"J","g":"S","v":5.4},{"p":"J","g":"S","v":5.4},{"p":"J","g":"S","v":5.5},{"p":"J","g":"S","v":5.5},{"p":"J","g":"S","v":5.6},{"p":"J","g":"S","v":5.6},{"p":"J","g":"S","v":5.7},{"p":"J","g":"S","v":5.7},{"p":"J","g":"S","v":5.8},{"p":"J","g":"S","v":5.9},{"p":"J","g":"S","v":6.0},{"p":"J","g":"S","v":6.1},{"p":"J","g":"S","v":6.2},{"p":"J","g":"S","v":6.3},{"p":"J","g":"S","v":6.5},{"p":"J","g":"S","v":6.7},{"p":"J","g":"S","v":7.0},{"p":"J","g":"S","v":7.3},{"p":"J","g":"S","v":7.6},{"p":"J","g":"S","v":7.9},{"p":"J","g":"S","v":8.2},{"p":"J","g":"S","v":8.4},
{"p":"K","g":"C","v":-13.3},{"p":"K","g":"C","v":-13.3},{"p":"K","g":"C","v":-13.3},{"p":"K","g":"C","v":-13.3},{"p":"K","g":"C","v":-13.3},{"p":"K","g":"C","v":-13.3},{"p":"K","g":"C","v":-13.3},{"p":"K","g":"C","v":-13.3},{"p":"K","g":"C","v":-13.3},{"p":"K","g":"C","v":-13.3},{"p":"K","g":"C","v":-13.3},{"p":"K","g":"C","v":-13.3},{"p":"K","g":"C","v":-13.3},{"p":"K","g":"C","v":-13.3},{"p":"K","g":"C","v":-13.3},{"p":"K","g":"C","v":-13.3},{"p":"K","g":"C","v":-13.3},{"p":"K","g":"C","v":-13.3},{"p":"K","g":"C","v":-13.3},{"p":"K","g":"C","v":-13.3},{"p":"K","g":"C","v":-13.3},{"p":"K","g":"C","v":-13.3},{"p":"K","g":"C","v":-13.3},{"p":"K","g":"C","v":-13.3},{"p":"K","g":"C","v":-13.3},{"p":"K","g":"C","v":-13.3},{"p":"K","g":"C","v":-13.3},{"p":"K","g":"C","v":-13.3},{"p":"K","g":"C","v":-13.3},{"p":"K","g":"C","v":-13.3},{"p":"K","g":"C","v":-13.3},{"p":"K","g":"C","v":-13.3},{"p":"K","g":"C","v":-13.3},{"p":"K","g":"C","v":-13.3},{"p":"K","g":"C","v":-13.3},{"p":"K","g":"C","v":-13.3},{"p":"K","g":"C","v":-13.3},{"p":"K","g":"C","v":-13.3},{"p":"K","g":"C","v":-13.3},{"p":"K","g":"C","v":-13.3},{"p":"K","g":"C","v":-13.3},{"p":"K","g":"C","v":-13.3},{"p":"K","g":"C","v":-6.4},{"p":"K","g":"C","v":-6.3},{"p":"K","g":"C","v":-6.3},{"p":"K","g":"C","v":-6.2},{"p":"K","g":"C","v":-5.0},{"p":"K","g":"C","v":-4.5},{"p":"K","g":"C","v":-4.2},{"p":"K","g":"C","v":-3.8},{"p":"K","g":"C","v":-3.4},{"p":"K","g":"C","v":-3.0},{"p":"K","g":"C","v":-2.6},{"p":"K","g":"C","v":-2.3},{"p":"K","g":"C","v":-1.9},{"p":"K","g":"C","v":-1.9},
{"p":"K","g":"V","v":-9.4},{"p":"K","g":"V","v":-9.2},{"p":"K","g":"V","v":-8.9},{"p":"K","g":"V","v":-7.3},{"p":"K","g":"V","v":-4.8},{"p":"K","g":"V","v":-3.8},{"p":"K","g":"V","v":-1.5},{"p":"K","g":"V","v":0.9},{"p":"K","g":"V","v":3.6},
{"p":"K","g":"J","v":-6.3},{"p":"K","g":"J","v":-6.2},{"p":"K","g":"J","v":-5.6},{"p":"K","g":"J","v":-5.4},{"p":"K","g":"J","v":-5.0},{"p":"K","g":"J","v":-1.0},{"p":"K","g":"J","v":0.5},{"p":"K","g":"J","v":1.4},{"p":"K","g":"J","v":1.9},{"p":"K","g":"J","v":2.2},{"p":"K","g":"J","v":2.4},{"p":"K","g":"J","v":2.7},{"p":"K","g":"J","v":3.2},{"p":"K","g":"J","v":3.4},{"p":"K","g":"J","v":3.7},{"p":"K","g":"J","v":4.0},{"p":"K","g":"J","v":4.2},{"p":"K","g":"J","v":4.7},{"p":"K","g":"J","v":4.9},{"p":"K","g":"J","v":5.55},
{"p":"K","g":"S","v":-13.3},{"p":"K","g":"S","v":-13.3},{"p":"K","g":"S","v":-10.6},{"p":"K","g":"S","v":-9.6},{"p":"K","g":"S","v":-8.2},{"p":"K","g":"S","v":-6.1},{"p":"K","g":"S","v":-5.6},{"p":"K","g":"S","v":-5.4},{"p":"K","g":"S","v":-5.4},{"p":"K","g":"S","v":-4.8},{"p":"K","g":"S","v":-3.3},{"p":"K","g":"S","v":-2.1},{"p":"K","g":"S","v":-0.9},{"p":"K","g":"S","v":-0.3},{"p":"K","g":"S","v":0.05},{"p":"K","g":"S","v":0.4},{"p":"K","g":"S","v":0.7},{"p":"K","g":"S","v":0.9},{"p":"K","g":"S","v":1.1},{"p":"K","g":"S","v":1.3},{"p":"K","g":"S","v":1.4},{"p":"K","g":"S","v":1.5},{"p":"K","g":"S","v":1.6},{"p":"K","g":"S","v":1.7},{"p":"K","g":"S","v":1.8},{"p":"K","g":"S","v":1.9},{"p":"K","g":"S","v":2.0},{"p":"K","g":"S","v":2.0},{"p":"K","g":"S","v":2.1},{"p":"K","g":"S","v":2.2},{"p":"K","g":"S","v":2.3},{"p":"K","g":"S","v":2.4},{"p":"K","g":"S","v":2.6},{"p":"K","g":"S","v":2.7},{"p":"K","g":"S","v":2.8},{"p":"K","g":"S","v":3.0},{"p":"K","g":"S","v":3.1},{"p":"K","g":"S","v":3.2},{"p":"K","g":"S","v":3.3},{"p":"K","g":"S","v":3.5},{"p":"K","g":"S","v":3.6},{"p":"K","g":"S","v":3.7},{"p":"K","g":"S","v":3.8},{"p":"K","g":"S","v":3.9},{"p":"K","g":"S","v":4.0},{"p":"K","g":"S","v":4.0},{"p":"K","g":"S","v":4.1},{"p":"K","g":"S","v":4.2},{"p":"K","g":"S","v":4.3},{"p":"K","g":"S","v":4.4},{"p":"K","g":"S","v":4.5},{"p":"K","g":"S","v":4.6},{"p":"K","g":"S","v":4.7},{"p":"K","g":"S","v":4.8},{"p":"K","g":"S","v":5.0},{"p":"K","g":"S","v":5.2},{"p":"K","g":"S","v":5.5},{"p":"K","g":"S","v":5.85},
{"p":"L","g":"C","v":-13.3},{"p":"L","g":"C","v":-8.1},{"p":"L","g":"C","v":-7.9},{"p":"L","g":"C","v":-7.8},{"p":"L","g":"C","v":-7.4},{"p":"L","g":"C","v":-6.3},{"p":"L","g":"C","v":-5.8},{"p":"L","g":"C","v":-5.3},{"p":"L","g":"C","v":-4.8},{"p":"L","g":"C","v":-4.4},{"p":"L","g":"C","v":-4.1},{"p":"L","g":"C","v":-3.9},{"p":"L","g":"C","v":-3.7},{"p":"L","g":"C","v":-3.6},{"p":"L","g":"C","v":-3.5},{"p":"L","g":"C","v":-3.4},{"p":"L","g":"C","v":-3.3},{"p":"L","g":"C","v":-3.1},{"p":"L","g":"C","v":-3.0},{"p":"L","g":"C","v":-2.9},{"p":"L","g":"C","v":-2.8},{"p":"L","g":"C","v":-2.7},{"p":"L","g":"C","v":-2.6},{"p":"L","g":"C","v":-2.5},{"p":"L","g":"C","v":-2.4},{"p":"L","g":"C","v":-2.3},{"p":"L","g":"C","v":-2.2},{"p":"L","g":"C","v":-2.1},{"p":"L","g":"C","v":-2.0},{"p":"L","g":"C","v":-1.9},{"p":"L","g":"C","v":-1.8},{"p":"L","g":"C","v":-1.7},{"p":"L","g":"C","v":-1.6},{"p":"L","g":"C","v":-1.5},{"p":"L","g":"C","v":-1.4},{"p":"L","g":"C","v":-1.3},{"p":"L","g":"C","v":-1.2},{"p":"L","g":"C","v":-1.1},{"p":"L","g":"C","v":-1.0},{"p":"L","g":"C","v":-0.9},{"p":"L","g":"C","v":-0.8},{"p":"L","g":"C","v":-0.75},{"p":"L","g":"C","v":-0.6},{"p":"L","g":"C","v":-0.5},{"p":"L","g":"C","v":-0.4},{"p":"L","g":"C","v":-0.3},{"p":"L","g":"C","v":-0.2},{"p":"L","g":"C","v":-0.1},{"p":"L","g":"C","v":0.1},{"p":"L","g":"C","v":0.3},{"p":"L","g":"C","v":0.5},{"p":"L","g":"C","v":0.7},{"p":"L","g":"C","v":1.0},{"p":"L","g":"C","v":1.3},{"p":"L","g":"C","v":1.7},{"p":"L","g":"C","v":2.0},
{"p":"L","g":"V","v":0.55},{"p":"L","g":"V","v":0.8},{"p":"L","g":"V","v":1.5},{"p":"L","g":"V","v":2.0},{"p":"L","g":"V","v":2.7},{"p":"L","g":"V","v":3.3},{"p":"L","g":"V","v":4.7},{"p":"L","g":"V","v":5.4},{"p":"L","g":"V","v":6.5},
{"p":"L","g":"J","v":2.3},{"p":"L","g":"J","v":2.6},{"p":"L","g":"J","v":3.3},{"p":"L","g":"J","v":4.0},{"p":"L","g":"J","v":4.4},{"p":"L","g":"J","v":4.7},{"p":"L","g":"J","v":5.0},{"p":"L","g":"J","v":5.2},{"p":"L","g":"J","v":5.4},{"p":"L","g":"J","v":5.5},{"p":"L","g":"J","v":5.7},{"p":"L","g":"J","v":5.9},{"p":"L","g":"J","v":6.1},{"p":"L","g":"J","v":6.4},{"p":"L","g":"J","v":6.8},{"p":"L","g":"J","v":7.0},{"p":"L","g":"J","v":7.3},{"p":"L","g":"J","v":7.6},{"p":"L","g":"J","v":7.8},{"p":"L","g":"J","v":8.0},
{"p":"L","g":"S","v":-2.3},{"p":"L","g":"S","v":0.3},{"p":"L","g":"S","v":1.7},{"p":"L","g":"S","v":2.3},{"p":"L","g":"S","v":3.0},{"p":"L","g":"S","v":3.5},{"p":"L","g":"S","v":3.9},{"p":"L","g":"S","v":4.2},{"p":"L","g":"S","v":4.5},{"p":"L","g":"S","v":4.7},{"p":"L","g":"S","v":4.8},{"p":"L","g":"S","v":4.9},{"p":"L","g":"S","v":5.0},{"p":"L","g":"S","v":5.1},{"p":"L","g":"S","v":5.2},{"p":"L","g":"S","v":5.3},{"p":"L","g":"S","v":5.4},{"p":"L","g":"S","v":5.5},{"p":"L","g":"S","v":5.6},{"p":"L","g":"S","v":5.7},{"p":"L","g":"S","v":5.8},{"p":"L","g":"S","v":5.8},{"p":"L","g":"S","v":5.9},{"p":"L","g":"S","v":6.0},{"p":"L","g":"S","v":6.0},{"p":"L","g":"S","v":6.1},{"p":"L","g":"S","v":6.1},{"p":"L","g":"S","v":6.2},{"p":"L","g":"S","v":6.2},{"p":"L","g":"S","v":6.3},{"p":"L","g":"S","v":6.3},{"p":"L","g":"S","v":6.4},{"p":"L","g":"S","v":6.4},{"p":"L","g":"S","v":6.5},{"p":"L","g":"S","v":6.5},{"p":"L","g":"S","v":6.6},{"p":"L","g":"S","v":6.6},{"p":"L","g":"S","v":6.7},{"p":"L","g":"S","v":6.7},{"p":"L","g":"S","v":6.8},{"p":"L","g":"S","v":6.8},{"p":"L","g":"S","v":6.9},{"p":"L","g":"S","v":6.9},{"p":"L","g":"S","v":7.0},{"p":"L","g":"S","v":7.1},{"p":"L","g":"S","v":7.2},{"p":"L","g":"S","v":7.3},{"p":"L","g":"S","v":7.4},{"p":"L","g":"S","v":7.5},{"p":"L","g":"S","v":7.6},{"p":"L","g":"S","v":7.7},{"p":"L","g":"S","v":7.8},{"p":"L","g":"S","v":7.9},{"p":"L","g":"S","v":8.1},{"p":"L","g":"S","v":8.3},{"p":"L","g":"S","v":8.5},{"p":"L","g":"S","v":8.8},{"p":"L","g":"S","v":9.1}
]},
"transform": [{"calculate": "indexof(['C','V','J','S'], datum.g)", "as": "x"}],
"facet": {"field": "p", "type": "nominal", "title": null, "header": {"labels": false, "title": null, "labelFontSize": 0, "labelPadding": 0, "labelExpr": "''"}},
"columns": 4,
"spacing": {"row": 105, "column": 0},
"bounds": "flush",
"resolve": {"axis": {"x": "independent"}},
"spec": {
  "width": 166,
  "height": 165,
  "encoding": {
    "x": {"field": "x", "type": "quantitative", "scale": {"domain": [-0.61, 3.61], "nice": false, "zero": false},
          "axis": {"values": [0, 1, 2, 3], "labelExpr": "['Controls','VIN','VINadj','VSCC'][datum.value]", "title": null, "labelPadding": 4.5, "labelOverlap": false, "labelFlush": false, "grid": false}},
    "y": {"field": "y", "type": "quantitative", "scale": {"domain": [-15, 10], "nice": false, "zero": false},
          "axis": {"values": [-15, -10, -5, 0, 5, 10], "title": "Methylation level (log2)", "labelPadding": 1.5, "titlePadding": 2, "grid": false}}
  },
  "layer": [
    {"transform": [{"filter": "isValid(datum.q1)"}, {"calculate": "datum.lo", "as": "y"}],
     "mark": {"type": "rule", "color": "#333", "strokeWidth": 1.3},
     "encoding": {"y2": {"field": "hi"}}},
    {"transform": [{"filter": "isValid(datum.q1)"}, {"calculate": "datum.q1", "as": "y"}],
     "mark": {"type": "bar", "width": 32, "fill": "white", "stroke": "#333", "strokeWidth": 1.3},
     "encoding": {"y2": {"field": "q3"}}},
    {"transform": [{"filter": "isValid(datum.q1)"}, {"fold": ["lo", "hi"], "as": ["kk", "y"]}],
     "mark": {"type": "tick", "orient": "horizontal", "size": 12, "thickness": 1.3, "color": "#333"},
     "encoding": {}},
    {"transform": [{"filter": "isValid(datum.q1)"}, {"calculate": "datum.md", "as": "y"}],
     "mark": {"type": "tick", "orient": "horizontal", "size": 32, "thickness": 1.3, "color": "#333"},
     "encoding": {}},
    {"transform": [
       {"filter": "isValid(datum.v)"},
       {"bin": {"step": 0.6, "extent": [-15, 11], "nice": false}, "field": "v", "as": "vb"},
       {"window": [{"op": "row_number", "as": "k"}, {"op": "count", "as": "m"}], "groupby": ["p", "g", "vb"], "frame": [null, null]},
       {"calculate": "datum.x + (datum.k - (datum.m + 1) / 2) * min(0.115, 0.76 / datum.m)", "as": "x"},
       {"calculate": "datum.v", "as": "y"}],
     "mark": {"type": "circle", "size": 15, "opacity": 1},
     "encoding": {"color": {"field": "g", "type": "nominal", "legend": null,
        "scale": {"domain": ["C", "V", "J", "S"], "range": ["#6cbd45", "#fcbd7a", "#f7761f", "#ec1c24"]}}}},
    {"transform": [{"filter": "isValid(datum.s)"}, {"calculate": "datum.a", "as": "x"},
       {"calculate": "datum.b - datum.a == 3 ? 14.1 : (datum.b - datum.a == 2 ? 11.7 : 9.4)", "as": "y"}],
     "mark": {"type": "rule", "color": "#888", "strokeWidth": 1, "xOffset": 3, "x2Offset": -2},
     "encoding": {"x2": {"field": "b"}}},
    {"transform": [{"filter": "isValid(datum.s) && datum.s == 'NS'"}, {"calculate": "(datum.a + datum.b) / 2", "as": "x"},
       {"calculate": "datum.b - datum.a == 3 ? 14.1 : (datum.b - datum.a == 2 ? 11.7 : 9.4)", "as": "y"}],
     "mark": {"type": "text", "fontSize": 8.5, "baseline": "alphabetic", "dy": -2, "color": "#555"},
     "encoding": {"text": {"field": "s"}}},
    {"transform": [{"filter": "isValid(datum.s) && datum.s != 'NS'"}, {"calculate": "(datum.a + datum.b) / 2", "as": "x"},
       {"calculate": "datum.b - datum.a == 3 ? 14.1 : (datum.b - datum.a == 2 ? 11.7 : 9.4)", "as": "y"}],
     "mark": {"type": "text", "fontSize": 14, "baseline": "alphabetic", "dy": 4, "color": "#333"},
     "encoding": {"text": {"field": "s"}}},
    {"transform": [{"filter": "isValid(datum.nl)"}, {"calculate": "-19.45", "as": "y"}],
     "mark": {"type": "text", "fontSize": 10, "fontWeight": "bold", "baseline": "alphabetic", "color": "#222"},
     "encoding": {"text": {"field": "nl"}}},
    {"transform": [{"filter": "isValid(datum.ti)"}, {"calculate": "0.79", "as": "x"}, {"calculate": "16.55", "as": "y"}],
     "mark": {"type": "text", "fontSize": 11.6, "align": "left", "baseline": "alphabetic", "color": "#333"},
     "encoding": {"text": {"field": "ti"}}},
    {"transform": [{"filter": "isValid(datum.lt)"}, {"calculate": "indexof(['A','E','I'], datum.p) >= 0 ? -0.99 : -0.74", "as": "x"}, {"calculate": "15.6", "as": "y"}],
     "mark": {"type": "text", "fontSize": 18, "fontWeight": "bold", "align": "left", "baseline": "alphabetic", "color": "#111"},
     "encoding": {"text": {"field": "lt"}}}
  ]
},
"config": {
  "view": {"stroke": null},
  "font": "Liberation Sans",
  "header": {"labels": false, "title": null, "labelFontSize": 0, "labelPadding": 0, "labelExpr": "''"},
  "headerFacet": {"labels": false, "labelFontSize": 0, "labelPadding": 0, "labelExpr": "''"},
  "axis": {"grid": false, "domainColor": "#333", "domainWidth": 1.3, "tickColor": "#333", "tickWidth": 1.3, "tickSize": 5,
           "labelFont": "Liberation Sans", "labelFontWeight": "bold", "labelFontSize": 10.5, "labelColor": "#222",
           "titleFont": "Liberation Sans", "titleFontWeight": "bold", "titleFontSize": 12.5, "titleColor": "#222"}
}
}
